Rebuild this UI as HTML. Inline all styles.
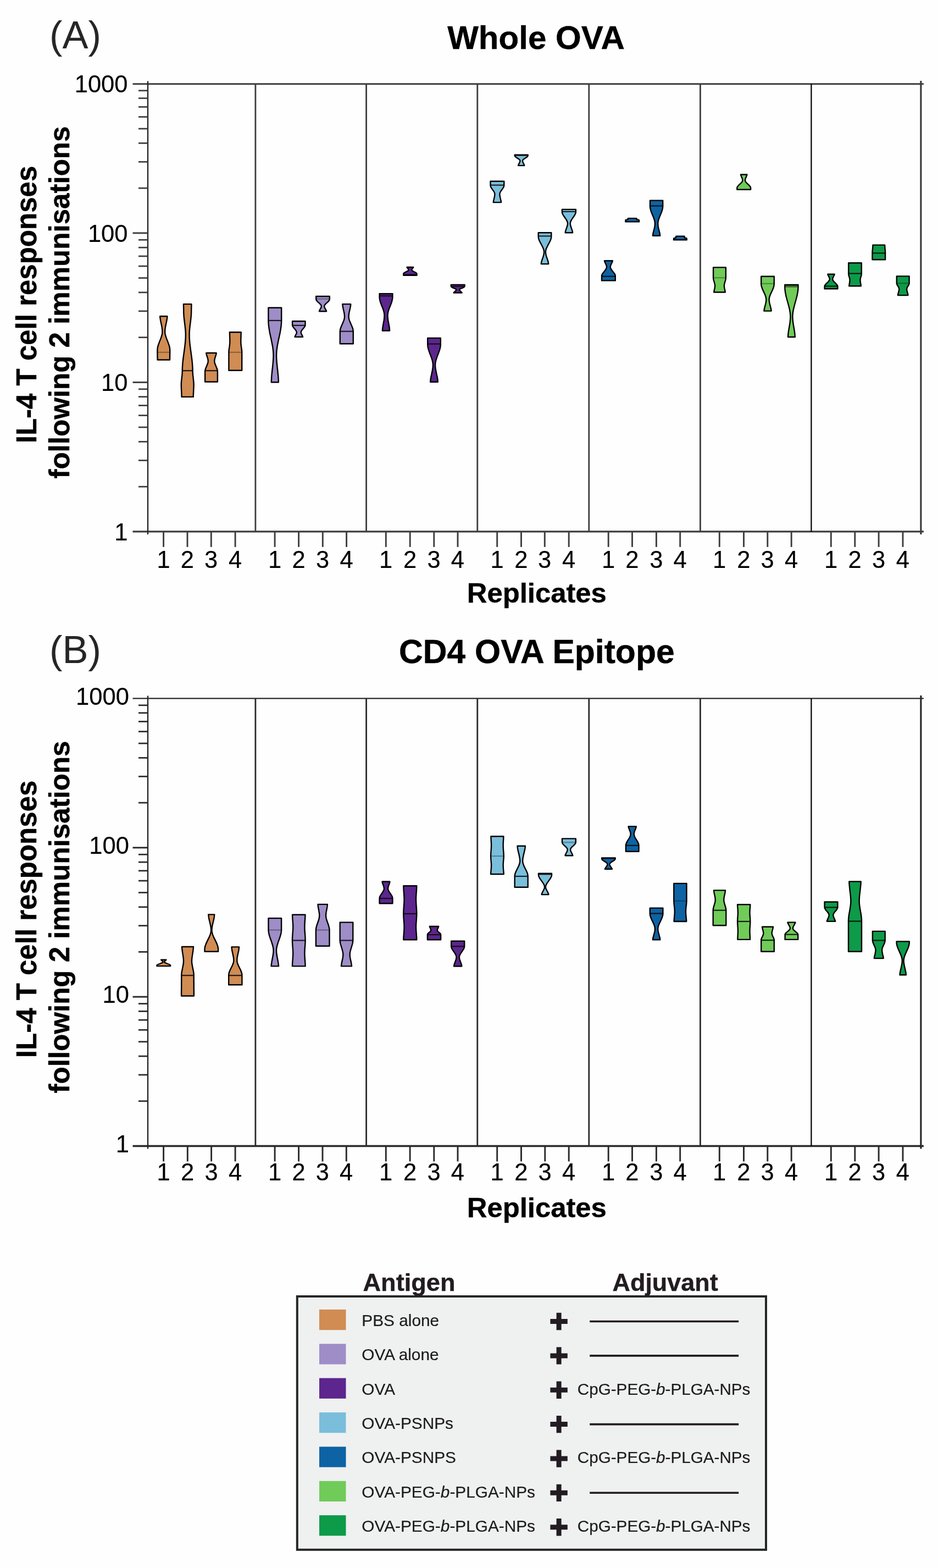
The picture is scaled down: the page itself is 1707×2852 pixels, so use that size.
<!DOCTYPE html>
<html lang="en">
<head>
<meta charset="utf-8">
<title>IL-4 T cell responses following 2 immunisations</title>
<style>
html,body{margin:0;padding:0;background:#fefefe;}
body{width:1707px;height:2852px;overflow:hidden;}
svg{display:block;}
svg text{white-space:pre;}
</style>
</head>
<body>
<svg width="1707" height="2852" viewBox="0 0 1707 2852">
<rect width="1707" height="2852" fill="#fefefe"/>
<defs><filter id="soft" x="0" y="0" width="1707" height="2852" filterUnits="userSpaceOnUse"><feGaussianBlur stdDeviation="0.6"/></filter></defs>
<g filter="url(#soft)">
<g stroke="#3d3d3d" stroke-width="2.9" fill="none" stroke-linecap="butt">
<line x1="241.5" y1="152.8" x2="1680.9" y2="152.8" stroke-width="3.0"/>
<line x1="241.5" y1="966.9" x2="1680.9" y2="966.9" stroke-width="3.4"/>
<line x1="269.0" y1="147.4" x2="269.0" y2="971.9" stroke-width="2.4" stroke="#262626"/>
<line x1="1675.9" y1="146.9" x2="1675.9" y2="971.9" stroke-width="3.2"/>
<line x1="464.9" y1="152.4" x2="464.9" y2="966.9" stroke-width="2.8"/>
<line x1="666.6" y1="152.4" x2="666.6" y2="966.9" stroke-width="2.8"/>
<line x1="868.8" y1="152.4" x2="868.8" y2="966.9" stroke-width="2.8"/>
<line x1="1071.8" y1="152.4" x2="1071.8" y2="966.9" stroke-width="2.8"/>
<line x1="1274.4" y1="152.4" x2="1274.4" y2="966.9" stroke-width="2.8"/>
<line x1="1476.4" y1="152.4" x2="1476.4" y2="966.9" stroke-width="2.2" stroke="#000"/>
<line x1="252" y1="885.2" x2="269.0" y2="885.2" stroke-width="2.7"/>
<line x1="252" y1="837.4" x2="269.0" y2="837.4" stroke-width="2.7"/>
<line x1="252" y1="803.4" x2="269.0" y2="803.4" stroke-width="2.7"/>
<line x1="252" y1="777.1" x2="269.0" y2="777.1" stroke-width="2.7"/>
<line x1="252" y1="755.6" x2="269.0" y2="755.6" stroke-width="2.7"/>
<line x1="252" y1="737.5" x2="269.0" y2="737.5" stroke-width="2.7"/>
<line x1="252" y1="721.7" x2="269.0" y2="721.7" stroke-width="2.7"/>
<line x1="252" y1="707.8" x2="269.0" y2="707.8" stroke-width="2.7"/>
<line x1="241.5" y1="695.4" x2="269.0" y2="695.4"/>
<line x1="252" y1="613.7" x2="269.0" y2="613.7" stroke-width="2.7"/>
<line x1="252" y1="565.9" x2="269.0" y2="565.9" stroke-width="2.7"/>
<line x1="252" y1="531.9" x2="269.0" y2="531.9" stroke-width="2.7"/>
<line x1="252" y1="505.6" x2="269.0" y2="505.6" stroke-width="2.7"/>
<line x1="252" y1="484.1" x2="269.0" y2="484.1" stroke-width="2.7"/>
<line x1="252" y1="466.0" x2="269.0" y2="466.0" stroke-width="2.7"/>
<line x1="252" y1="450.2" x2="269.0" y2="450.2" stroke-width="2.7"/>
<line x1="252" y1="436.3" x2="269.0" y2="436.3" stroke-width="2.7"/>
<line x1="241.5" y1="423.9" x2="269.0" y2="423.9"/>
<line x1="252" y1="342.2" x2="269.0" y2="342.2" stroke-width="2.7"/>
<line x1="252" y1="294.4" x2="269.0" y2="294.4" stroke-width="2.7"/>
<line x1="252" y1="260.4" x2="269.0" y2="260.4" stroke-width="2.7"/>
<line x1="252" y1="234.1" x2="269.0" y2="234.1" stroke-width="2.7"/>
<line x1="252" y1="212.6" x2="269.0" y2="212.6" stroke-width="2.7"/>
<line x1="252" y1="194.5" x2="269.0" y2="194.5" stroke-width="2.7"/>
<line x1="252" y1="178.7" x2="269.0" y2="178.7" stroke-width="2.7"/>
<line x1="252" y1="164.8" x2="269.0" y2="164.8" stroke-width="2.7"/>
<line x1="297.6" y1="966.9" x2="297.6" y2="994.9"/>
<line x1="341.0" y1="966.9" x2="341.0" y2="994.9"/>
<line x1="384.3" y1="966.9" x2="384.3" y2="994.9"/>
<line x1="428.1" y1="966.9" x2="428.1" y2="994.9"/>
<line x1="500.1" y1="966.9" x2="500.1" y2="994.9"/>
<line x1="543.6" y1="966.9" x2="543.6" y2="994.9"/>
<line x1="587.3" y1="966.9" x2="587.3" y2="994.9"/>
<line x1="630.6" y1="966.9" x2="630.6" y2="994.9"/>
<line x1="702.3" y1="966.9" x2="702.3" y2="994.9"/>
<line x1="746.2" y1="966.9" x2="746.2" y2="994.9"/>
<line x1="789.8" y1="966.9" x2="789.8" y2="994.9"/>
<line x1="833.0" y1="966.9" x2="833.0" y2="994.9"/>
<line x1="904.7" y1="966.9" x2="904.7" y2="994.9"/>
<line x1="948.5" y1="966.9" x2="948.5" y2="994.9"/>
<line x1="991.3" y1="966.9" x2="991.3" y2="994.9"/>
<line x1="1035.2" y1="966.9" x2="1035.2" y2="994.9"/>
<line x1="1107.2" y1="966.9" x2="1107.2" y2="994.9"/>
<line x1="1150.5" y1="966.9" x2="1150.5" y2="994.9"/>
<line x1="1194.4" y1="966.9" x2="1194.4" y2="994.9"/>
<line x1="1237.7" y1="966.9" x2="1237.7" y2="994.9"/>
<line x1="1309.3" y1="966.9" x2="1309.3" y2="994.9"/>
<line x1="1353.5" y1="966.9" x2="1353.5" y2="994.9"/>
<line x1="1396.8" y1="966.9" x2="1396.8" y2="994.9"/>
<line x1="1440.2" y1="966.9" x2="1440.2" y2="994.9"/>
<line x1="1512.3" y1="966.9" x2="1512.3" y2="994.9"/>
<line x1="1555.8" y1="966.9" x2="1555.8" y2="994.9"/>
<line x1="1599.1" y1="966.9" x2="1599.1" y2="994.9"/>
<line x1="1643.0" y1="966.9" x2="1643.0" y2="994.9"/>
</g>
<path d="M291.2 575.3 L291.3 576.3 L291.3 577.3 L291.4 578.3 L291.6 579.3 L291.7 580.3 L291.9 581.3 L292.0 582.3 L292.2 583.3 L292.4 584.3 L292.6 585.3 L292.8 586.3 L293.0 587.3 L293.3 588.3 L293.5 589.3 L293.7 590.3 L293.9 591.3 L294.1 592.3 L294.3 593.3 L294.5 594.3 L294.7 595.4 L294.8 596.4 L295.0 597.4 L295.1 598.4 L295.2 599.4 L295.3 600.4 L295.4 601.4 L295.4 602.4 L295.4 603.4 L295.4 604.4 L295.3 605.4 L295.2 606.4 L295.0 607.4 L294.8 608.4 L294.6 609.4 L294.3 610.4 L294.0 611.4 L293.7 612.4 L293.4 613.4 L293.0 614.4 L292.7 615.4 L292.3 616.4 L291.9 617.4 L291.5 618.4 L291.1 619.4 L290.7 620.4 L290.3 621.4 L289.9 622.4 L289.6 623.4 L289.2 624.4 L288.8 625.4 L288.5 626.4 L288.1 627.4 L287.8 628.4 L287.5 629.4 L287.3 630.4 L287.0 631.4 L286.8 632.4 L286.7 633.4 L286.5 634.4 L286.5 635.5 L286.4 636.5 L286.4 637.5 L286.4 638.5 L286.4 639.5 L286.4 640.5 L286.4 641.5 L286.4 642.5 L286.5 643.5 L286.5 644.5 L286.5 645.5 L286.5 646.5 L286.5 647.5 L286.5 648.5 L286.5 649.5 L286.6 650.5 L286.6 651.5 L286.6 652.5 L286.6 653.5 L286.6 654.5 L309.0 654.5 L309.0 653.5 L309.0 652.5 L309.0 651.5 L309.0 650.5 L309.1 649.5 L309.1 648.5 L309.1 647.5 L309.1 646.5 L309.1 645.5 L309.1 644.5 L309.1 643.5 L309.2 642.5 L309.2 641.5 L309.2 640.5 L309.2 639.5 L309.2 638.5 L309.2 637.5 L309.2 636.5 L309.1 635.5 L309.1 634.4 L308.9 633.4 L308.8 632.4 L308.6 631.4 L308.3 630.4 L308.1 629.4 L307.8 628.4 L307.5 627.4 L307.1 626.4 L306.8 625.4 L306.4 624.4 L306.0 623.4 L305.7 622.4 L305.3 621.4 L304.9 620.4 L304.5 619.4 L304.1 618.4 L303.7 617.4 L303.3 616.4 L302.9 615.4 L302.6 614.4 L302.2 613.4 L301.9 612.4 L301.6 611.4 L301.3 610.4 L301.0 609.4 L300.8 608.4 L300.6 607.4 L300.4 606.4 L300.3 605.4 L300.2 604.4 L300.2 603.4 L300.2 602.4 L300.2 601.4 L300.3 600.4 L300.4 599.4 L300.5 598.4 L300.6 597.4 L300.8 596.4 L300.9 595.4 L301.1 594.3 L301.3 593.3 L301.5 592.3 L301.7 591.3 L301.9 590.3 L302.1 589.3 L302.3 588.3 L302.6 587.3 L302.8 586.3 L303.0 585.3 L303.2 584.3 L303.4 583.3 L303.6 582.3 L303.7 581.3 L303.9 580.3 L304.0 579.3 L304.2 578.3 L304.3 577.3 L304.3 576.3 L304.4 575.3Z" fill="#d08c53" stroke="#050505" stroke-width="2.4" stroke-linejoin="round"/>
<line x1="286.4" y1="640.8" x2="309.2" y2="640.8" stroke="#050505" stroke-width="2.2" stroke-opacity="0.32"/>
<path d="M334.0 553.1 L334.0 554.1 L334.0 555.1 L334.0 556.1 L334.1 557.1 L334.1 558.1 L334.1 559.1 L334.1 560.1 L334.1 561.1 L334.2 562.1 L334.2 563.1 L334.2 564.1 L334.2 565.1 L334.2 566.1 L334.2 567.1 L334.2 568.1 L334.3 569.1 L334.3 570.1 L334.3 571.1 L334.4 572.1 L334.5 573.1 L334.5 574.1 L334.6 575.1 L334.7 576.1 L334.8 577.1 L334.9 578.1 L335.0 579.1 L335.1 580.1 L335.2 581.1 L335.3 582.1 L335.5 583.1 L335.6 584.1 L335.7 585.1 L335.8 586.1 L335.9 587.1 L336.1 588.1 L336.2 589.1 L336.3 590.1 L336.4 591.1 L336.6 592.1 L336.7 593.1 L336.8 594.1 L336.9 595.1 L337.0 596.0 L337.1 597.0 L337.2 598.0 L337.3 599.0 L337.4 600.0 L337.5 601.0 L337.5 602.0 L337.6 603.0 L337.7 604.0 L337.7 605.0 L337.8 606.0 L337.8 607.0 L337.8 608.0 L337.8 609.0 L337.8 610.0 L337.8 611.0 L337.8 612.0 L337.7 613.0 L337.7 614.0 L337.7 615.0 L337.6 616.0 L337.5 617.0 L337.5 618.0 L337.4 619.0 L337.3 620.0 L337.3 621.0 L337.2 622.0 L337.1 623.0 L337.0 624.0 L336.9 625.0 L336.8 626.0 L336.7 627.0 L336.6 628.0 L336.4 629.0 L336.3 630.0 L336.2 631.0 L336.1 632.0 L335.9 633.0 L335.8 634.0 L335.7 635.0 L335.6 636.0 L335.4 637.0 L335.3 638.0 L335.1 639.0 L335.0 640.0 L334.9 641.0 L334.7 642.0 L334.6 643.0 L334.5 644.0 L334.3 645.0 L334.2 646.0 L334.0 647.0 L333.9 648.0 L333.8 649.0 L333.7 650.0 L333.5 651.0 L333.4 652.0 L333.3 653.0 L333.2 654.0 L333.0 655.0 L332.9 656.0 L332.8 657.0 L332.7 658.0 L332.6 659.0 L332.5 660.0 L332.4 661.0 L332.3 662.0 L332.3 663.0 L332.2 664.0 L332.1 665.0 L332.1 666.0 L332.0 667.0 L331.9 668.0 L331.9 669.0 L331.9 670.0 L331.8 671.0 L331.8 672.0 L331.8 673.0 L331.8 674.0 L331.8 675.0 L331.8 676.0 L331.7 677.0 L331.7 678.0 L331.6 679.0 L331.5 679.9 L331.4 680.9 L331.4 681.9 L331.3 682.9 L331.1 683.9 L331.0 684.9 L330.9 685.9 L330.8 686.9 L330.7 687.9 L330.6 688.9 L330.5 689.9 L330.4 690.9 L330.3 691.9 L330.2 692.9 L330.1 693.9 L330.0 694.9 L329.9 695.9 L329.9 696.9 L329.8 697.9 L329.8 698.9 L329.8 699.9 L329.8 700.9 L329.8 701.9 L329.8 702.9 L329.9 703.9 L329.9 704.9 L329.9 705.9 L330.0 706.9 L330.0 707.9 L330.1 708.9 L330.1 709.9 L330.2 710.9 L330.2 711.9 L330.3 712.9 L330.3 713.9 L330.4 714.9 L330.4 715.9 L330.5 716.9 L330.5 717.9 L330.5 718.9 L330.6 719.9 L330.6 720.9 L330.6 721.9 L351.8 721.9 L351.8 720.9 L351.8 719.9 L351.9 718.9 L351.9 717.9 L351.9 716.9 L352.0 715.9 L352.0 714.9 L352.1 713.9 L352.1 712.9 L352.2 711.9 L352.2 710.9 L352.3 709.9 L352.3 708.9 L352.4 707.9 L352.4 706.9 L352.5 705.9 L352.5 704.9 L352.5 703.9 L352.6 702.9 L352.6 701.9 L352.6 700.9 L352.6 699.9 L352.6 698.9 L352.6 697.9 L352.5 696.9 L352.5 695.9 L352.4 694.9 L352.3 693.9 L352.2 692.9 L352.1 691.9 L352.0 690.9 L351.9 689.9 L351.8 688.9 L351.7 687.9 L351.6 686.9 L351.5 685.9 L351.4 684.9 L351.3 683.9 L351.1 682.9 L351.0 681.9 L351.0 680.9 L350.9 679.9 L350.8 679.0 L350.7 678.0 L350.7 677.0 L350.6 676.0 L350.6 675.0 L350.6 674.0 L350.6 673.0 L350.6 672.0 L350.6 671.0 L350.5 670.0 L350.5 669.0 L350.5 668.0 L350.4 667.0 L350.3 666.0 L350.3 665.0 L350.2 664.0 L350.1 663.0 L350.1 662.0 L350.0 661.0 L349.9 660.0 L349.8 659.0 L349.7 658.0 L349.6 657.0 L349.5 656.0 L349.4 655.0 L349.2 654.0 L349.1 653.0 L349.0 652.0 L348.9 651.0 L348.7 650.0 L348.6 649.0 L348.5 648.0 L348.4 647.0 L348.2 646.0 L348.1 645.0 L347.9 644.0 L347.8 643.0 L347.7 642.0 L347.5 641.0 L347.4 640.0 L347.3 639.0 L347.1 638.0 L347.0 637.0 L346.8 636.0 L346.7 635.0 L346.6 634.0 L346.5 633.0 L346.3 632.0 L346.2 631.0 L346.1 630.0 L346.0 629.0 L345.8 628.0 L345.7 627.0 L345.6 626.0 L345.5 625.0 L345.4 624.0 L345.3 623.0 L345.2 622.0 L345.1 621.0 L345.1 620.0 L345.0 619.0 L344.9 618.0 L344.9 617.0 L344.8 616.0 L344.7 615.0 L344.7 614.0 L344.7 613.0 L344.6 612.0 L344.6 611.0 L344.6 610.0 L344.6 609.0 L344.6 608.0 L344.6 607.0 L344.6 606.0 L344.7 605.0 L344.7 604.0 L344.8 603.0 L344.9 602.0 L344.9 601.0 L345.0 600.0 L345.1 599.0 L345.2 598.0 L345.3 597.0 L345.4 596.0 L345.5 595.1 L345.6 594.1 L345.7 593.1 L345.8 592.1 L346.0 591.1 L346.1 590.1 L346.2 589.1 L346.3 588.1 L346.5 587.1 L346.6 586.1 L346.7 585.1 L346.8 584.1 L346.9 583.1 L347.1 582.1 L347.2 581.1 L347.3 580.1 L347.4 579.1 L347.5 578.1 L347.6 577.1 L347.7 576.1 L347.8 575.1 L347.9 574.1 L347.9 573.1 L348.0 572.1 L348.1 571.1 L348.1 570.1 L348.1 569.1 L348.2 568.1 L348.2 567.1 L348.2 566.1 L348.2 565.1 L348.2 564.1 L348.2 563.1 L348.2 562.1 L348.3 561.1 L348.3 560.1 L348.3 559.1 L348.3 558.1 L348.3 557.1 L348.4 556.1 L348.4 555.1 L348.4 554.1 L348.4 553.1Z" fill="#d08c53" stroke="#050505" stroke-width="2.4" stroke-linejoin="round"/>
<line x1="331.8" y1="674.2" x2="350.6" y2="674.2" stroke="#050505" stroke-width="2.2" stroke-opacity="0.85"/>
<path d="M375.3 642.0 L375.4 643.0 L375.6 644.0 L375.8 645.0 L376.1 646.0 L376.4 647.0 L376.8 648.1 L377.1 649.1 L377.4 650.1 L377.8 651.1 L378.0 652.1 L378.3 653.1 L378.5 654.1 L378.6 655.1 L378.7 656.1 L378.7 657.1 L378.6 658.2 L378.4 659.2 L378.2 660.2 L377.9 661.2 L377.5 662.2 L377.1 663.2 L376.7 664.2 L376.3 665.2 L375.9 666.2 L375.5 667.2 L375.0 668.2 L374.6 669.3 L374.3 670.3 L373.9 671.3 L373.6 672.3 L373.4 673.3 L373.2 674.3 L373.1 675.3 L373.1 676.3 L373.1 677.3 L373.1 678.3 L373.1 679.4 L373.1 680.4 L373.1 681.4 L373.1 682.4 L373.1 683.4 L373.1 684.4 L373.1 685.4 L373.1 686.4 L373.1 687.4 L373.1 688.4 L373.1 689.5 L373.1 690.5 L373.1 691.5 L373.1 692.5 L373.1 693.5 L373.1 694.5 L395.9 694.5 L395.9 693.5 L395.9 692.5 L395.9 691.5 L395.9 690.5 L395.9 689.5 L395.9 688.4 L395.9 687.4 L395.9 686.4 L395.9 685.4 L395.9 684.4 L395.9 683.4 L395.9 682.4 L395.9 681.4 L395.9 680.4 L395.9 679.4 L395.9 678.3 L395.9 677.3 L395.9 676.3 L395.9 675.3 L395.8 674.3 L395.6 673.3 L395.4 672.3 L395.1 671.3 L394.7 670.3 L394.4 669.3 L394.0 668.2 L393.5 667.2 L393.1 666.2 L392.7 665.2 L392.3 664.2 L391.9 663.2 L391.5 662.2 L391.1 661.2 L390.8 660.2 L390.6 659.2 L390.4 658.2 L390.3 657.1 L390.3 656.1 L390.4 655.1 L390.5 654.1 L390.7 653.1 L391.0 652.1 L391.2 651.1 L391.6 650.1 L391.9 649.1 L392.2 648.1 L392.6 647.0 L392.9 646.0 L393.2 645.0 L393.4 644.0 L393.6 643.0 L393.7 642.0Z" fill="#d08c53" stroke="#050505" stroke-width="2.4" stroke-linejoin="round"/>
<line x1="373.2" y1="674.2" x2="395.8" y2="674.2" stroke="#050505" stroke-width="2.2" stroke-opacity="0.85"/>
<path d="M417.9 604.2 L417.9 605.2 L417.9 606.2 L418.0 607.2 L418.0 608.2 L418.0 609.2 L418.0 610.2 L418.1 611.3 L418.1 612.3 L418.1 613.3 L418.2 614.3 L418.2 615.3 L418.2 616.3 L418.2 617.3 L418.3 618.3 L418.3 619.3 L418.3 620.3 L418.3 621.3 L418.3 622.3 L418.3 623.3 L418.2 624.3 L418.1 625.4 L418.0 626.4 L417.9 627.4 L417.8 628.4 L417.7 629.4 L417.5 630.4 L417.4 631.4 L417.2 632.4 L417.1 633.4 L416.9 634.4 L416.8 635.4 L416.7 636.4 L416.6 637.4 L416.5 638.4 L416.4 639.5 L416.4 640.5 L416.4 641.5 L416.4 642.5 L416.4 643.5 L416.4 644.5 L416.4 645.5 L416.4 646.5 L416.4 647.5 L416.4 648.5 L416.4 649.5 L416.4 650.5 L416.4 651.5 L416.4 652.5 L416.4 653.6 L416.4 654.6 L416.4 655.6 L416.4 656.6 L416.4 657.6 L416.4 658.6 L416.4 659.6 L416.4 660.6 L416.4 661.6 L416.4 662.6 L416.4 663.6 L416.4 664.6 L416.4 665.6 L416.4 666.6 L416.4 667.7 L416.4 668.7 L416.4 669.7 L416.4 670.7 L416.4 671.7 L416.4 672.7 L416.4 673.7 L440.2 673.7 L440.2 672.7 L440.2 671.7 L440.2 670.7 L440.2 669.7 L440.2 668.7 L440.2 667.7 L440.2 666.6 L440.2 665.6 L440.2 664.6 L440.2 663.6 L440.2 662.6 L440.2 661.6 L440.2 660.6 L440.2 659.6 L440.2 658.6 L440.2 657.6 L440.2 656.6 L440.2 655.6 L440.2 654.6 L440.2 653.6 L440.2 652.5 L440.2 651.5 L440.2 650.5 L440.2 649.5 L440.2 648.5 L440.2 647.5 L440.2 646.5 L440.2 645.5 L440.2 644.5 L440.2 643.5 L440.2 642.5 L440.2 641.5 L440.2 640.5 L440.2 639.5 L440.1 638.4 L440.0 637.4 L439.9 636.4 L439.8 635.4 L439.7 634.4 L439.5 633.4 L439.4 632.4 L439.2 631.4 L439.1 630.4 L438.9 629.4 L438.8 628.4 L438.7 627.4 L438.6 626.4 L438.5 625.4 L438.4 624.3 L438.3 623.3 L438.3 622.3 L438.3 621.3 L438.3 620.3 L438.3 619.3 L438.3 618.3 L438.4 617.3 L438.4 616.3 L438.4 615.3 L438.4 614.3 L438.5 613.3 L438.5 612.3 L438.5 611.3 L438.6 610.2 L438.6 609.2 L438.6 608.2 L438.6 607.2 L438.7 606.2 L438.7 605.2 L438.7 604.2Z" fill="#d08c53" stroke="#050505" stroke-width="2.4" stroke-linejoin="round"/>
<line x1="416.4" y1="640.8" x2="440.2" y2="640.8" stroke="#050505" stroke-width="2.2" stroke-opacity="0.32"/>
<path d="M488.4 559.7 L488.4 560.7 L488.4 561.7 L488.4 562.7 L488.4 563.7 L488.4 564.7 L488.4 565.7 L488.4 566.7 L488.4 567.7 L488.4 568.7 L488.4 569.7 L488.4 570.7 L488.4 571.7 L488.4 572.7 L488.4 573.8 L488.4 574.8 L488.4 575.8 L488.4 576.8 L488.4 577.8 L488.4 578.8 L488.4 579.8 L488.4 580.8 L488.4 581.8 L488.4 582.8 L488.4 583.8 L488.4 584.8 L488.5 585.8 L488.5 586.8 L488.6 587.8 L488.6 588.8 L488.7 589.8 L488.8 590.8 L488.9 591.8 L489.0 592.8 L489.1 593.8 L489.2 594.8 L489.4 595.8 L489.5 596.8 L489.7 597.8 L489.8 598.8 L490.0 599.8 L490.2 600.9 L490.4 601.9 L490.5 602.9 L490.7 603.9 L490.9 604.9 L491.1 605.9 L491.3 606.9 L491.5 607.9 L491.7 608.9 L492.0 609.9 L492.2 610.9 L492.4 611.9 L492.6 612.9 L492.8 613.9 L493.0 614.9 L493.3 615.9 L493.5 616.9 L493.7 617.9 L493.9 618.9 L494.1 619.9 L494.3 620.9 L494.5 621.9 L494.7 622.9 L494.9 623.9 L495.1 624.9 L495.3 625.9 L495.5 626.9 L495.7 628.0 L495.9 629.0 L496.0 630.0 L496.2 631.0 L496.3 632.0 L496.5 633.0 L496.6 634.0 L496.8 635.0 L496.9 636.0 L497.0 637.0 L497.1 638.0 L497.2 639.0 L497.3 640.0 L497.3 641.0 L497.4 642.0 L497.4 643.0 L497.5 644.0 L497.5 645.0 L497.5 646.0 L497.5 647.0 L497.5 648.0 L497.5 649.0 L497.4 650.0 L497.4 651.0 L497.4 652.0 L497.3 653.0 L497.2 654.0 L497.2 655.1 L497.1 656.1 L497.0 657.1 L497.0 658.1 L496.9 659.1 L496.8 660.1 L496.7 661.1 L496.6 662.1 L496.5 663.1 L496.4 664.1 L496.3 665.1 L496.2 666.1 L496.1 667.1 L496.0 668.1 L495.9 669.1 L495.8 670.1 L495.7 671.1 L495.5 672.1 L495.4 673.1 L495.3 674.1 L495.2 675.1 L495.1 676.1 L495.0 677.1 L494.9 678.1 L494.8 679.1 L494.7 680.1 L494.6 681.1 L494.5 682.2 L494.4 683.2 L494.3 684.2 L494.3 685.2 L494.2 686.2 L494.1 687.2 L494.1 688.2 L494.0 689.2 L494.0 690.2 L493.9 691.2 L493.9 692.2 L493.8 693.2 L493.8 694.2 L493.8 695.2 L506.8 695.2 L506.8 694.2 L506.8 693.2 L506.7 692.2 L506.7 691.2 L506.6 690.2 L506.6 689.2 L506.5 688.2 L506.5 687.2 L506.4 686.2 L506.3 685.2 L506.3 684.2 L506.2 683.2 L506.1 682.2 L506.0 681.1 L505.9 680.1 L505.8 679.1 L505.7 678.1 L505.6 677.1 L505.5 676.1 L505.4 675.1 L505.3 674.1 L505.2 673.1 L505.1 672.1 L504.9 671.1 L504.8 670.1 L504.7 669.1 L504.6 668.1 L504.5 667.1 L504.4 666.1 L504.3 665.1 L504.2 664.1 L504.1 663.1 L504.0 662.1 L503.9 661.1 L503.8 660.1 L503.7 659.1 L503.6 658.1 L503.6 657.1 L503.5 656.1 L503.4 655.1 L503.4 654.0 L503.3 653.0 L503.2 652.0 L503.2 651.0 L503.2 650.0 L503.1 649.0 L503.1 648.0 L503.1 647.0 L503.1 646.0 L503.1 645.0 L503.1 644.0 L503.2 643.0 L503.2 642.0 L503.3 641.0 L503.3 640.0 L503.4 639.0 L503.5 638.0 L503.6 637.0 L503.7 636.0 L503.8 635.0 L504.0 634.0 L504.1 633.0 L504.3 632.0 L504.4 631.0 L504.6 630.0 L504.7 629.0 L504.9 628.0 L505.1 626.9 L505.3 625.9 L505.5 624.9 L505.7 623.9 L505.9 622.9 L506.1 621.9 L506.3 620.9 L506.5 619.9 L506.7 618.9 L506.9 617.9 L507.1 616.9 L507.3 615.9 L507.6 614.9 L507.8 613.9 L508.0 612.9 L508.2 611.9 L508.4 610.9 L508.6 609.9 L508.9 608.9 L509.1 607.9 L509.3 606.9 L509.5 605.9 L509.7 604.9 L509.9 603.9 L510.1 602.9 L510.2 601.9 L510.4 600.9 L510.6 599.8 L510.8 598.8 L510.9 597.8 L511.1 596.8 L511.2 595.8 L511.4 594.8 L511.5 593.8 L511.6 592.8 L511.7 591.8 L511.8 590.8 L511.9 589.8 L512.0 588.8 L512.0 587.8 L512.1 586.8 L512.1 585.8 L512.2 584.8 L512.2 583.8 L512.2 582.8 L512.2 581.8 L512.2 580.8 L512.2 579.8 L512.2 578.8 L512.2 577.8 L512.2 576.8 L512.2 575.8 L512.2 574.8 L512.2 573.8 L512.2 572.7 L512.2 571.7 L512.2 570.7 L512.2 569.7 L512.2 568.7 L512.2 567.7 L512.2 566.7 L512.2 565.7 L512.2 564.7 L512.2 563.7 L512.2 562.7 L512.2 561.7 L512.2 560.7 L512.2 559.7Z" fill="#9e8dc7" stroke="#050505" stroke-width="2.4" stroke-linejoin="round"/>
<line x1="488.4" y1="583.0" x2="512.2" y2="583.0" stroke="#050505" stroke-width="2.2" stroke-opacity="0.85"/>
<path d="M532.1 584.2 L532.1 585.2 L532.1 586.2 L532.1 587.2 L532.1 588.2 L532.1 589.1 L532.1 590.1 L532.1 591.1 L532.2 592.1 L532.6 593.1 L533.1 594.1 L533.8 595.1 L534.5 596.1 L535.4 597.1 L536.2 598.1 L537.0 599.0 L537.8 600.0 L538.5 601.0 L539.1 602.0 L539.5 603.0 L539.8 604.0 L539.8 605.0 L539.6 606.0 L539.3 607.0 L538.8 608.0 L538.3 608.9 L537.8 609.9 L537.3 610.9 L536.9 611.9 L536.6 612.9 L551.0 612.9 L550.7 611.9 L550.3 610.9 L549.8 609.9 L549.3 608.9 L548.8 608.0 L548.3 607.0 L548.0 606.0 L547.8 605.0 L547.8 604.0 L548.1 603.0 L548.5 602.0 L549.1 601.0 L549.8 600.0 L550.6 599.0 L551.4 598.1 L552.2 597.1 L553.1 596.1 L553.8 595.1 L554.5 594.1 L555.0 593.1 L555.4 592.1 L555.5 591.1 L555.5 590.1 L555.5 589.1 L555.5 588.2 L555.5 587.2 L555.5 586.2 L555.5 585.2 L555.5 584.2Z" fill="#9e8dc7" stroke="#050505" stroke-width="2.4" stroke-linejoin="round"/>
<line x1="532.2" y1="591.9" x2="555.4" y2="591.9" stroke="#050505" stroke-width="2.2" stroke-opacity="0.85"/>
<path d="M575.2 539.0 L575.2 540.0 L575.2 541.0 L575.2 542.0 L575.2 543.0 L575.2 544.0 L575.4 545.0 L575.8 546.1 L576.5 547.1 L577.4 548.1 L578.4 549.1 L579.5 550.1 L580.7 551.1 L581.7 552.1 L582.7 553.1 L583.6 554.1 L584.3 555.1 L584.7 556.1 L584.8 557.1 L584.7 558.1 L584.4 559.1 L583.9 560.2 L583.4 561.2 L582.8 562.2 L582.2 563.2 L581.7 564.2 L581.3 565.2 L580.9 566.2 L594.1 566.2 L593.7 565.2 L593.3 564.2 L592.8 563.2 L592.2 562.2 L591.6 561.2 L591.1 560.2 L590.6 559.1 L590.3 558.1 L590.2 557.1 L590.3 556.1 L590.7 555.1 L591.4 554.1 L592.3 553.1 L593.3 552.1 L594.3 551.1 L595.5 550.1 L596.6 549.1 L597.6 548.1 L598.5 547.1 L599.2 546.1 L599.6 545.0 L599.8 544.0 L599.8 543.0 L599.8 542.0 L599.8 541.0 L599.8 540.0 L599.8 539.0Z" fill="#9e8dc7" stroke="#050505" stroke-width="2.4" stroke-linejoin="round"/>
<line x1="575.2" y1="543.7" x2="599.8" y2="543.7" stroke="#050505" stroke-width="2.2" stroke-opacity="0.32"/>
<path d="M623.3 553.1 L623.4 554.1 L623.5 555.1 L623.6 556.1 L623.7 557.1 L623.9 558.1 L624.1 559.1 L624.3 560.1 L624.5 561.1 L624.7 562.1 L625.0 563.1 L625.2 564.1 L625.4 565.1 L625.6 566.1 L625.9 567.1 L626.1 568.1 L626.3 569.1 L626.4 570.1 L626.6 571.1 L626.7 572.1 L626.9 573.1 L626.9 574.1 L627.0 575.1 L627.0 576.1 L627.0 577.1 L626.9 578.1 L626.7 579.1 L626.5 580.1 L626.2 581.1 L625.9 582.1 L625.6 583.1 L625.2 584.1 L624.8 585.1 L624.4 586.1 L624.0 587.1 L623.5 588.1 L623.1 589.1 L622.6 590.2 L622.2 591.2 L621.7 592.2 L621.3 593.2 L620.9 594.2 L620.5 595.2 L620.1 596.2 L619.8 597.2 L619.5 598.2 L619.2 599.2 L619.1 600.2 L618.9 601.2 L618.8 602.2 L618.8 603.2 L618.8 604.2 L618.8 605.2 L618.8 606.2 L618.8 607.2 L618.8 608.2 L618.8 609.2 L618.8 610.2 L618.8 611.2 L618.8 612.2 L618.8 613.2 L618.8 614.2 L618.8 615.2 L618.8 616.2 L618.8 617.2 L618.8 618.2 L618.8 619.2 L618.8 620.2 L618.8 621.2 L618.8 622.2 L618.8 623.2 L618.8 624.2 L618.8 625.2 L642.8 625.2 L642.8 624.2 L642.8 623.2 L642.8 622.2 L642.8 621.2 L642.8 620.2 L642.8 619.2 L642.8 618.2 L642.8 617.2 L642.8 616.2 L642.8 615.2 L642.8 614.2 L642.8 613.2 L642.8 612.2 L642.8 611.2 L642.8 610.2 L642.8 609.2 L642.8 608.2 L642.8 607.2 L642.8 606.2 L642.8 605.2 L642.8 604.2 L642.8 603.2 L642.8 602.2 L642.7 601.2 L642.5 600.2 L642.4 599.2 L642.1 598.2 L641.8 597.2 L641.5 596.2 L641.1 595.2 L640.7 594.2 L640.3 593.2 L639.9 592.2 L639.4 591.2 L639.0 590.2 L638.5 589.1 L638.1 588.1 L637.6 587.1 L637.2 586.1 L636.8 585.1 L636.4 584.1 L636.0 583.1 L635.7 582.1 L635.4 581.1 L635.1 580.1 L634.9 579.1 L634.7 578.1 L634.6 577.1 L634.6 576.1 L634.6 575.1 L634.7 574.1 L634.7 573.1 L634.9 572.1 L635.0 571.1 L635.2 570.1 L635.3 569.1 L635.5 568.1 L635.7 567.1 L636.0 566.1 L636.2 565.1 L636.4 564.1 L636.6 563.1 L636.9 562.1 L637.1 561.1 L637.3 560.1 L637.5 559.1 L637.7 558.1 L637.9 557.1 L638.0 556.1 L638.1 555.1 L638.2 554.1 L638.3 553.1Z" fill="#9e8dc7" stroke="#050505" stroke-width="2.4" stroke-linejoin="round"/>
<line x1="618.8" y1="602.7" x2="642.8" y2="602.7" stroke="#050505" stroke-width="2.2" stroke-opacity="0.85"/>
<path d="M690.6 534.2 L690.6 535.2 L690.6 536.2 L690.6 537.2 L690.6 538.2 L690.6 539.2 L690.6 540.2 L690.6 541.2 L690.7 542.2 L690.8 543.2 L691.0 544.2 L691.2 545.2 L691.4 546.3 L691.7 547.3 L691.9 548.3 L692.2 549.3 L692.6 550.3 L692.9 551.3 L693.3 552.3 L693.6 553.3 L694.0 554.3 L694.4 555.3 L694.8 556.3 L695.2 557.3 L695.6 558.3 L696.0 559.3 L696.4 560.3 L696.8 561.3 L697.1 562.3 L697.5 563.3 L697.8 564.3 L698.1 565.3 L698.4 566.3 L698.7 567.3 L698.9 568.4 L699.1 569.4 L699.2 570.4 L699.4 571.4 L699.5 572.4 L699.5 573.4 L699.5 574.4 L699.5 575.4 L699.4 576.4 L699.3 577.4 L699.3 578.4 L699.1 579.4 L699.0 580.4 L698.9 581.4 L698.7 582.4 L698.6 583.4 L698.4 584.4 L698.2 585.4 L698.0 586.4 L697.9 587.4 L697.7 588.4 L697.5 589.4 L697.3 590.5 L697.1 591.5 L696.9 592.5 L696.8 593.5 L696.6 594.5 L696.5 595.5 L696.3 596.5 L696.2 597.5 L696.1 598.5 L696.0 599.5 L696.0 600.5 L695.9 601.5 L709.1 601.5 L709.0 600.5 L709.0 599.5 L708.9 598.5 L708.8 597.5 L708.7 596.5 L708.5 595.5 L708.4 594.5 L708.2 593.5 L708.1 592.5 L707.9 591.5 L707.7 590.5 L707.5 589.4 L707.3 588.4 L707.1 587.4 L707.0 586.4 L706.8 585.4 L706.6 584.4 L706.4 583.4 L706.3 582.4 L706.1 581.4 L706.0 580.4 L705.9 579.4 L705.7 578.4 L705.7 577.4 L705.6 576.4 L705.5 575.4 L705.5 574.4 L705.5 573.4 L705.5 572.4 L705.6 571.4 L705.8 570.4 L705.9 569.4 L706.1 568.4 L706.3 567.3 L706.6 566.3 L706.9 565.3 L707.2 564.3 L707.5 563.3 L707.9 562.3 L708.2 561.3 L708.6 560.3 L709.0 559.3 L709.4 558.3 L709.8 557.3 L710.2 556.3 L710.6 555.3 L711.0 554.3 L711.4 553.3 L711.7 552.3 L712.1 551.3 L712.4 550.3 L712.8 549.3 L713.1 548.3 L713.3 547.3 L713.6 546.3 L713.8 545.2 L714.0 544.2 L714.2 543.2 L714.3 542.2 L714.4 541.2 L714.4 540.2 L714.4 539.2 L714.4 538.2 L714.4 537.2 L714.4 536.2 L714.4 535.2 L714.4 534.2Z" fill="#5c288e" stroke="#050505" stroke-width="2.4" stroke-linejoin="round"/>
<line x1="690.6" y1="538.2" x2="714.4" y2="538.2" stroke="#050505" stroke-width="2.2" stroke-opacity="0.85"/>
<path d="M740.5 486.0 L741.2 487.0 L741.9 488.0 L742.7 488.9 L743.3 489.9 L743.6 490.9 L743.2 491.9 L742.0 492.9 L740.2 493.8 L738.3 494.8 L736.5 495.8 L735.0 496.8 L734.3 497.8 L734.3 498.7 L734.3 499.7 L734.3 500.7 L758.5 500.7 L758.5 499.7 L758.5 498.7 L758.5 497.8 L757.8 496.8 L756.3 495.8 L754.5 494.8 L752.6 493.8 L750.8 492.9 L749.6 491.9 L749.2 490.9 L749.5 489.9 L750.1 488.9 L750.9 488.0 L751.6 487.0 L752.3 486.0Z" fill="#5c288e" stroke="#050505" stroke-width="2.4" stroke-linejoin="round"/>
<line x1="734.3" y1="499.6" x2="758.5" y2="499.6" stroke="#050505" stroke-width="2.2" stroke-opacity="0.85"/>
<path d="M778.2 614.9 L778.2 615.9 L778.2 616.9 L778.2 617.9 L778.2 618.9 L778.2 619.9 L778.2 620.9 L778.2 621.9 L778.2 622.9 L778.2 623.9 L778.2 624.9 L778.2 625.9 L778.2 626.9 L778.3 627.9 L778.4 628.9 L778.5 629.9 L778.6 630.9 L778.8 631.9 L779.0 632.9 L779.3 633.9 L779.5 634.9 L779.8 635.9 L780.1 636.9 L780.4 637.9 L780.8 638.9 L781.1 639.9 L781.5 640.9 L781.9 641.9 L782.2 642.9 L782.6 643.9 L783.0 644.9 L783.4 645.9 L783.8 646.9 L784.1 647.9 L784.5 648.9 L784.9 649.9 L785.2 650.9 L785.6 651.9 L785.9 652.9 L786.2 653.9 L786.5 654.9 L786.8 655.8 L787.0 656.8 L787.2 657.8 L787.4 658.8 L787.6 659.8 L787.7 660.8 L787.8 661.8 L787.9 662.8 L787.9 663.8 L787.9 664.8 L787.9 665.8 L787.8 666.8 L787.7 667.8 L787.6 668.8 L787.5 669.8 L787.3 670.8 L787.2 671.8 L787.0 672.8 L786.8 673.8 L786.7 674.8 L786.4 675.8 L786.2 676.8 L786.0 677.8 L785.8 678.8 L785.6 679.8 L785.4 680.8 L785.2 681.8 L784.9 682.8 L784.7 683.8 L784.5 684.8 L784.3 685.8 L784.1 686.8 L784.0 687.8 L783.8 688.8 L783.7 689.8 L783.5 690.8 L783.4 691.8 L783.3 692.8 L783.3 693.8 L783.2 694.8 L796.8 694.8 L796.7 693.8 L796.7 692.8 L796.6 691.8 L796.5 690.8 L796.3 689.8 L796.2 688.8 L796.0 687.8 L795.9 686.8 L795.7 685.8 L795.5 684.8 L795.3 683.8 L795.1 682.8 L794.8 681.8 L794.6 680.8 L794.4 679.8 L794.2 678.8 L794.0 677.8 L793.8 676.8 L793.6 675.8 L793.3 674.8 L793.2 673.8 L793.0 672.8 L792.8 671.8 L792.7 670.8 L792.5 669.8 L792.4 668.8 L792.3 667.8 L792.2 666.8 L792.1 665.8 L792.1 664.8 L792.1 663.8 L792.1 662.8 L792.2 661.8 L792.3 660.8 L792.4 659.8 L792.6 658.8 L792.8 657.8 L793.0 656.8 L793.2 655.8 L793.5 654.9 L793.8 653.9 L794.1 652.9 L794.4 651.9 L794.8 650.9 L795.1 649.9 L795.5 648.9 L795.9 647.9 L796.2 646.9 L796.6 645.9 L797.0 644.9 L797.4 643.9 L797.8 642.9 L798.1 641.9 L798.5 640.9 L798.9 639.9 L799.2 638.9 L799.6 637.9 L799.9 636.9 L800.2 635.9 L800.5 634.9 L800.7 633.9 L801.0 632.9 L801.2 631.9 L801.4 630.9 L801.5 629.9 L801.6 628.9 L801.7 627.9 L801.8 626.9 L801.8 625.9 L801.8 624.9 L801.8 623.9 L801.8 622.9 L801.8 621.9 L801.8 620.9 L801.8 619.9 L801.8 618.9 L801.8 617.9 L801.8 616.9 L801.8 615.9 L801.8 614.9Z" fill="#5c288e" stroke="#050505" stroke-width="2.4" stroke-linejoin="round"/>
<line x1="778.2" y1="625.6" x2="801.8" y2="625.6" stroke="#050505" stroke-width="2.2" stroke-opacity="0.85"/>
<path d="M820.8 517.9 L820.8 518.9 L820.8 519.9 L820.8 520.8 L821.3 521.8 L823.0 522.8 L825.3 523.8 L827.7 524.8 L829.6 525.7 L830.4 526.7 L830.2 527.7 L829.5 528.7 L828.5 529.7 L827.5 530.6 L826.5 531.6 L825.7 532.6 L840.7 532.6 L839.9 531.6 L838.9 530.6 L837.9 529.7 L836.9 528.7 L836.2 527.7 L836.0 526.7 L836.8 525.7 L838.7 524.8 L841.1 523.8 L843.4 522.8 L845.1 521.8 L845.6 520.8 L845.6 519.9 L845.6 518.9 L845.6 517.9Z" fill="#5c288e" stroke="#050505" stroke-width="2.4" stroke-linejoin="round"/>
<line x1="820.8" y1="521.0" x2="845.6" y2="521.0" stroke="#050505" stroke-width="2.2" stroke-opacity="0.85"/>
<path d="M892.5 329.8 L892.5 330.8 L892.5 331.8 L892.5 332.8 L892.5 333.8 L892.5 334.8 L892.5 335.8 L892.5 336.9 L892.6 337.9 L892.8 338.9 L893.2 339.9 L893.7 340.9 L894.3 341.9 L894.9 342.9 L895.6 343.9 L896.4 344.9 L897.1 345.9 L897.9 346.9 L898.5 347.9 L899.1 349.0 L899.7 350.0 L900.0 351.0 L900.3 352.0 L900.4 353.0 L900.4 354.0 L900.3 355.0 L900.2 356.0 L900.0 357.0 L899.8 358.0 L899.6 359.0 L899.4 360.0 L899.1 361.0 L898.9 362.1 L898.7 363.1 L898.4 364.1 L898.2 365.1 L898.1 366.1 L897.9 367.1 L897.8 368.1 L912.0 368.1 L911.9 367.1 L911.7 366.1 L911.6 365.1 L911.4 364.1 L911.1 363.1 L910.9 362.1 L910.7 361.0 L910.4 360.0 L910.2 359.0 L910.0 358.0 L909.8 357.0 L909.6 356.0 L909.5 355.0 L909.4 354.0 L909.4 353.0 L909.5 352.0 L909.8 351.0 L910.1 350.0 L910.7 349.0 L911.3 347.9 L911.9 346.9 L912.7 345.9 L913.4 344.9 L914.2 343.9 L914.9 342.9 L915.5 341.9 L916.1 340.9 L916.6 339.9 L917.0 338.9 L917.2 337.9 L917.3 336.9 L917.3 335.8 L917.3 334.8 L917.3 333.8 L917.3 332.8 L917.3 331.8 L917.3 330.8 L917.3 329.8Z" fill="#7abedb" stroke="#050505" stroke-width="2.4" stroke-linejoin="round"/>
<line x1="892.5" y1="336.7" x2="917.3" y2="336.7" stroke="#050505" stroke-width="2.2" stroke-opacity="0.85"/>
<path d="M936.7 281.6 L936.7 282.6 L936.8 283.5 L937.4 284.5 L938.5 285.5 L939.8 286.5 L941.3 287.4 L942.8 288.4 L944.3 289.4 L945.4 290.4 L946.2 291.4 L946.4 292.3 L946.3 293.3 L946.0 294.3 L945.7 295.2 L945.2 296.2 L944.7 297.2 L944.2 298.2 L943.8 299.2 L943.4 300.1 L943.1 301.1 L954.3 301.1 L954.0 300.1 L953.6 299.2 L953.2 298.2 L952.7 297.2 L952.2 296.2 L951.7 295.2 L951.4 294.3 L951.1 293.3 L951.0 292.3 L951.2 291.4 L952.0 290.4 L953.1 289.4 L954.6 288.4 L956.1 287.4 L957.6 286.5 L958.9 285.5 L960.0 284.5 L960.6 283.5 L960.7 282.6 L960.7 281.6Z" fill="#7abedb" stroke="#050505" stroke-width="2.4" stroke-linejoin="round"/>
<line x1="936.7" y1="282.6" x2="960.7" y2="282.6" stroke="#050505" stroke-width="2.2" stroke-opacity="0.85"/>
<path d="M979.7 423.2 L979.7 424.2 L979.7 425.2 L979.7 426.2 L979.7 427.2 L979.7 428.2 L979.7 429.2 L979.7 430.2 L979.8 431.2 L979.9 432.2 L980.1 433.2 L980.3 434.2 L980.6 435.2 L981.0 436.2 L981.4 437.2 L981.8 438.2 L982.3 439.2 L982.8 440.2 L983.3 441.2 L983.8 442.2 L984.4 443.2 L984.9 444.2 L985.5 445.2 L986.0 446.2 L986.5 447.2 L987.0 448.2 L987.5 449.2 L988.0 450.2 L988.4 451.2 L988.8 452.1 L989.2 453.1 L989.5 454.1 L989.7 455.1 L989.9 456.1 L990.0 457.1 L990.1 458.1 L990.1 459.1 L990.0 460.1 L989.9 461.1 L989.7 462.1 L989.5 463.1 L989.3 464.1 L989.0 465.1 L988.7 466.1 L988.4 467.1 L988.0 468.1 L987.7 469.1 L987.3 470.1 L987.0 471.1 L986.7 472.1 L986.3 473.1 L986.0 474.1 L985.7 475.1 L985.5 476.1 L985.3 477.1 L985.1 478.1 L984.9 479.1 L984.8 480.1 L998.2 480.1 L998.1 479.1 L997.9 478.1 L997.7 477.1 L997.5 476.1 L997.3 475.1 L997.0 474.1 L996.7 473.1 L996.3 472.1 L996.0 471.1 L995.7 470.1 L995.3 469.1 L995.0 468.1 L994.6 467.1 L994.3 466.1 L994.0 465.1 L993.7 464.1 L993.5 463.1 L993.3 462.1 L993.1 461.1 L993.0 460.1 L992.9 459.1 L992.9 458.1 L993.0 457.1 L993.1 456.1 L993.3 455.1 L993.5 454.1 L993.8 453.1 L994.2 452.1 L994.6 451.2 L995.0 450.2 L995.5 449.2 L996.0 448.2 L996.5 447.2 L997.0 446.2 L997.5 445.2 L998.1 444.2 L998.6 443.2 L999.2 442.2 L999.7 441.2 L1000.2 440.2 L1000.7 439.2 L1001.2 438.2 L1001.6 437.2 L1002.0 436.2 L1002.4 435.2 L1002.7 434.2 L1002.9 433.2 L1003.1 432.2 L1003.2 431.2 L1003.3 430.2 L1003.3 429.2 L1003.3 428.2 L1003.3 427.2 L1003.3 426.2 L1003.3 425.2 L1003.3 424.2 L1003.3 423.2Z" fill="#7abedb" stroke="#050505" stroke-width="2.4" stroke-linejoin="round"/>
<line x1="979.7" y1="429.4" x2="1003.3" y2="429.4" stroke="#050505" stroke-width="2.2" stroke-opacity="0.85"/>
<path d="M1022.9 380.9 L1022.9 381.9 L1022.9 382.9 L1022.9 383.9 L1022.9 384.9 L1023.0 385.9 L1023.1 387.0 L1023.4 388.0 L1023.8 389.0 L1024.3 390.0 L1024.8 391.0 L1025.4 392.0 L1026.1 393.0 L1026.8 394.0 L1027.5 395.0 L1028.2 396.0 L1028.9 397.1 L1029.6 398.1 L1030.3 399.1 L1030.9 400.1 L1031.4 401.1 L1031.9 402.1 L1032.4 403.1 L1032.7 404.1 L1032.9 405.1 L1033.0 406.1 L1033.0 407.1 L1032.9 408.2 L1032.7 409.2 L1032.5 410.2 L1032.2 411.2 L1031.9 412.2 L1031.6 413.2 L1031.2 414.2 L1030.9 415.2 L1030.5 416.2 L1030.2 417.2 L1029.8 418.3 L1029.5 419.3 L1029.2 420.3 L1029.0 421.3 L1028.8 422.3 L1028.7 423.3 L1042.1 423.3 L1042.0 422.3 L1041.8 421.3 L1041.6 420.3 L1041.3 419.3 L1041.0 418.3 L1040.6 417.2 L1040.3 416.2 L1039.9 415.2 L1039.6 414.2 L1039.2 413.2 L1038.9 412.2 L1038.6 411.2 L1038.3 410.2 L1038.1 409.2 L1037.9 408.2 L1037.8 407.1 L1037.8 406.1 L1037.9 405.1 L1038.1 404.1 L1038.4 403.1 L1038.9 402.1 L1039.4 401.1 L1039.9 400.1 L1040.5 399.1 L1041.2 398.1 L1041.9 397.1 L1042.6 396.0 L1043.3 395.0 L1044.0 394.0 L1044.7 393.0 L1045.4 392.0 L1046.0 391.0 L1046.5 390.0 L1047.0 389.0 L1047.4 388.0 L1047.7 387.0 L1047.8 385.9 L1047.9 384.9 L1047.9 383.9 L1047.9 382.9 L1047.9 381.9 L1047.9 380.9Z" fill="#7abedb" stroke="#050505" stroke-width="2.4" stroke-linejoin="round"/>
<line x1="1022.9" y1="384.9" x2="1047.9" y2="384.9" stroke="#050505" stroke-width="2.2" stroke-opacity="0.85"/>
<path d="M1100.0 474.3 L1100.2 475.3 L1100.6 476.3 L1101.0 477.3 L1101.4 478.3 L1101.9 479.3 L1102.4 480.3 L1102.9 481.3 L1103.3 482.3 L1103.6 483.3 L1103.9 484.3 L1104.0 485.3 L1104.0 486.3 L1103.7 487.3 L1103.4 488.3 L1102.9 489.3 L1102.2 490.3 L1101.5 491.3 L1100.7 492.4 L1099.9 493.4 L1099.1 494.4 L1098.3 495.4 L1097.5 496.4 L1096.8 497.4 L1096.1 498.4 L1095.6 499.4 L1095.3 500.4 L1095.0 501.4 L1095.0 502.4 L1095.0 503.4 L1095.0 504.4 L1095.0 505.4 L1095.0 506.4 L1095.0 507.4 L1095.0 508.4 L1095.0 509.4 L1095.0 510.4 L1119.8 510.4 L1119.8 509.4 L1119.8 508.4 L1119.8 507.4 L1119.8 506.4 L1119.8 505.4 L1119.8 504.4 L1119.8 503.4 L1119.8 502.4 L1119.8 501.4 L1119.5 500.4 L1119.2 499.4 L1118.7 498.4 L1118.0 497.4 L1117.3 496.4 L1116.5 495.4 L1115.7 494.4 L1114.9 493.4 L1114.1 492.4 L1113.3 491.3 L1112.6 490.3 L1111.9 489.3 L1111.4 488.3 L1111.1 487.3 L1110.8 486.3 L1110.8 485.3 L1110.9 484.3 L1111.2 483.3 L1111.5 482.3 L1111.9 481.3 L1112.4 480.3 L1112.9 479.3 L1113.4 478.3 L1113.8 477.3 L1114.2 476.3 L1114.6 475.3 L1114.8 474.3Z" fill="#0b63a3" stroke="#050505" stroke-width="2.4" stroke-linejoin="round"/>
<line x1="1095.0" y1="502.7" x2="1119.8" y2="502.7" stroke="#050505" stroke-width="2.2" stroke-opacity="0.85"/>
<path d="M1142.9 397.1 L1142.8 398.1 L1142.7 399.2 L1138.5 400.2 L1138.5 401.3 L1138.4 402.4 L1138.3 403.4 L1163.1 403.4 L1163.0 402.4 L1162.9 401.3 L1162.9 400.2 L1158.7 399.2 L1158.6 398.1 L1158.5 397.1Z" fill="#0b63a3" stroke="#050505" stroke-width="2.4" stroke-linejoin="round"/>
<path d="M1183.0 364.6 L1183.0 365.6 L1183.0 366.6 L1183.0 367.6 L1183.0 368.6 L1183.0 369.6 L1183.0 370.6 L1183.0 371.6 L1183.0 372.6 L1183.0 373.6 L1183.0 374.6 L1183.0 375.6 L1183.1 376.6 L1183.2 377.6 L1183.3 378.6 L1183.5 379.6 L1183.7 380.6 L1184.0 381.7 L1184.3 382.7 L1184.6 383.7 L1184.9 384.7 L1185.3 385.7 L1185.7 386.7 L1186.1 387.7 L1186.5 388.7 L1186.9 389.7 L1187.3 390.7 L1187.7 391.7 L1188.2 392.7 L1188.6 393.7 L1189.0 394.7 L1189.4 395.7 L1189.7 396.7 L1190.1 397.7 L1190.4 398.7 L1190.7 399.7 L1191.0 400.7 L1191.3 401.7 L1191.5 402.7 L1191.6 403.7 L1191.8 404.7 L1191.9 405.7 L1191.9 406.7 L1191.9 407.7 L1191.8 408.7 L1191.7 409.7 L1191.6 410.7 L1191.5 411.7 L1191.3 412.8 L1191.1 413.8 L1190.9 414.8 L1190.6 415.8 L1190.4 416.8 L1190.1 417.8 L1189.9 418.8 L1189.6 419.8 L1189.4 420.8 L1189.1 421.8 L1188.9 422.8 L1188.7 423.8 L1188.5 424.8 L1188.3 425.8 L1188.2 426.8 L1188.1 427.8 L1188.0 428.8 L1201.2 428.8 L1201.1 427.8 L1201.0 426.8 L1200.9 425.8 L1200.7 424.8 L1200.5 423.8 L1200.3 422.8 L1200.1 421.8 L1199.8 420.8 L1199.6 419.8 L1199.3 418.8 L1199.1 417.8 L1198.8 416.8 L1198.6 415.8 L1198.3 414.8 L1198.1 413.8 L1197.9 412.8 L1197.7 411.7 L1197.6 410.7 L1197.5 409.7 L1197.4 408.7 L1197.3 407.7 L1197.3 406.7 L1197.3 405.7 L1197.4 404.7 L1197.6 403.7 L1197.7 402.7 L1197.9 401.7 L1198.2 400.7 L1198.5 399.7 L1198.8 398.7 L1199.1 397.7 L1199.5 396.7 L1199.8 395.7 L1200.2 394.7 L1200.6 393.7 L1201.0 392.7 L1201.5 391.7 L1201.9 390.7 L1202.3 389.7 L1202.7 388.7 L1203.1 387.7 L1203.5 386.7 L1203.9 385.7 L1204.3 384.7 L1204.6 383.7 L1204.9 382.7 L1205.2 381.7 L1205.5 380.6 L1205.7 379.6 L1205.9 378.6 L1206.0 377.6 L1206.1 376.6 L1206.2 375.6 L1206.2 374.6 L1206.2 373.6 L1206.2 372.6 L1206.2 371.6 L1206.2 370.6 L1206.2 369.6 L1206.2 368.6 L1206.2 367.6 L1206.2 366.6 L1206.2 365.6 L1206.2 364.6Z" fill="#0b63a3" stroke="#050505" stroke-width="2.4" stroke-linejoin="round"/>
<line x1="1183.0" y1="374.5" x2="1206.2" y2="374.5" stroke="#050505" stroke-width="2.2" stroke-opacity="0.85"/>
<path d="M1230.3 429.6 L1230.2 430.6 L1230.1 431.5 L1230.0 432.5 L1226.1 433.4 L1226.1 434.4 L1226.0 435.3 L1225.9 436.3 L1249.9 436.3 L1249.8 435.3 L1249.7 434.4 L1249.7 433.4 L1245.8 432.5 L1245.7 431.5 L1245.6 430.6 L1245.5 429.6Z" fill="#0b63a3" stroke="#050505" stroke-width="2.4" stroke-linejoin="round"/>
<path d="M1298.1 486.4 L1298.1 487.4 L1298.1 488.4 L1298.1 489.4 L1298.1 490.4 L1298.1 491.4 L1298.1 492.4 L1298.1 493.4 L1298.1 494.4 L1298.1 495.4 L1298.1 496.4 L1298.1 497.4 L1298.1 498.4 L1298.1 499.4 L1298.1 500.4 L1298.1 501.4 L1298.1 502.4 L1298.1 503.4 L1298.1 504.4 L1298.1 505.4 L1298.2 506.4 L1298.3 507.4 L1298.5 508.4 L1298.7 509.5 L1299.0 510.5 L1299.3 511.5 L1299.6 512.5 L1299.9 513.5 L1300.2 514.5 L1300.4 515.5 L1300.7 516.5 L1300.9 517.5 L1301.0 518.5 L1301.1 519.5 L1301.1 520.5 L1301.0 521.5 L1300.9 522.5 L1300.7 523.5 L1300.6 524.5 L1300.3 525.5 L1300.1 526.5 L1299.9 527.5 L1299.7 528.5 L1299.5 529.5 L1299.4 530.5 L1299.2 531.5 L1319.8 531.5 L1319.6 530.5 L1319.5 529.5 L1319.3 528.5 L1319.1 527.5 L1318.9 526.5 L1318.7 525.5 L1318.4 524.5 L1318.3 523.5 L1318.1 522.5 L1318.0 521.5 L1317.9 520.5 L1317.9 519.5 L1318.0 518.5 L1318.1 517.5 L1318.3 516.5 L1318.6 515.5 L1318.8 514.5 L1319.1 513.5 L1319.4 512.5 L1319.7 511.5 L1320.0 510.5 L1320.3 509.5 L1320.5 508.4 L1320.7 507.4 L1320.8 506.4 L1320.9 505.4 L1320.9 504.4 L1320.9 503.4 L1320.9 502.4 L1320.9 501.4 L1320.9 500.4 L1320.9 499.4 L1320.9 498.4 L1320.9 497.4 L1320.9 496.4 L1320.9 495.4 L1320.9 494.4 L1320.9 493.4 L1320.9 492.4 L1320.9 491.4 L1320.9 490.4 L1320.9 489.4 L1320.9 488.4 L1320.9 487.4 L1320.9 486.4Z" fill="#70cb59" stroke="#050505" stroke-width="2.4" stroke-linejoin="round"/>
<line x1="1298.1" y1="505.2" x2="1320.9" y2="505.2" stroke="#050505" stroke-width="2.2" stroke-opacity="0.32"/>
<path d="M1348.0 317.5 L1348.2 318.5 L1348.6 319.5 L1348.9 320.5 L1349.4 321.5 L1349.8 322.6 L1350.3 323.6 L1350.7 324.6 L1351.0 325.6 L1351.3 326.6 L1351.4 327.6 L1351.3 328.6 L1351.0 329.6 L1350.5 330.6 L1349.7 331.7 L1348.8 332.7 L1347.8 333.7 L1346.7 334.7 L1345.6 335.7 L1344.5 336.7 L1343.6 337.7 L1342.7 338.7 L1342.0 339.7 L1341.5 340.8 L1341.3 341.8 L1341.3 342.8 L1341.3 343.8 L1341.3 344.8 L1366.1 344.8 L1366.1 343.8 L1366.1 342.8 L1366.1 341.8 L1365.9 340.8 L1365.4 339.7 L1364.7 338.7 L1363.8 337.7 L1362.9 336.7 L1361.8 335.7 L1360.7 334.7 L1359.6 333.7 L1358.6 332.7 L1357.7 331.7 L1356.9 330.6 L1356.4 329.6 L1356.1 328.6 L1356.0 327.6 L1356.1 326.6 L1356.4 325.6 L1356.7 324.6 L1357.1 323.6 L1357.6 322.6 L1358.0 321.5 L1358.5 320.5 L1358.8 319.5 L1359.2 318.5 L1359.4 317.5Z" fill="#70cb59" stroke="#050505" stroke-width="2.4" stroke-linejoin="round"/>
<path d="M1385.2 502.7 L1385.2 503.7 L1385.2 504.7 L1385.2 505.7 L1385.2 506.7 L1385.2 507.7 L1385.2 508.7 L1385.2 509.7 L1385.2 510.7 L1385.2 511.7 L1385.2 512.7 L1385.2 513.7 L1385.2 514.7 L1385.2 515.7 L1385.2 516.7 L1385.3 517.7 L1385.4 518.7 L1385.6 519.7 L1385.8 520.7 L1386.1 521.7 L1386.4 522.7 L1386.7 523.7 L1387.1 524.7 L1387.5 525.7 L1387.9 526.7 L1388.4 527.7 L1388.8 528.7 L1389.3 529.7 L1389.8 530.7 L1390.2 531.7 L1390.7 532.7 L1391.1 533.7 L1391.6 534.6 L1392.0 535.6 L1392.4 536.6 L1392.8 537.6 L1393.1 538.6 L1393.4 539.6 L1393.7 540.6 L1393.9 541.6 L1394.1 542.6 L1394.2 543.6 L1394.3 544.6 L1394.3 545.6 L1394.3 546.6 L1394.2 547.6 L1394.0 548.6 L1393.9 549.6 L1393.7 550.6 L1393.5 551.6 L1393.3 552.6 L1393.0 553.6 L1392.7 554.6 L1392.5 555.6 L1392.2 556.6 L1391.9 557.6 L1391.7 558.6 L1391.4 559.6 L1391.2 560.6 L1391.0 561.6 L1390.8 562.6 L1390.6 563.6 L1390.5 564.6 L1390.4 565.6 L1403.6 565.6 L1403.5 564.6 L1403.4 563.6 L1403.2 562.6 L1403.0 561.6 L1402.8 560.6 L1402.6 559.6 L1402.3 558.6 L1402.1 557.6 L1401.8 556.6 L1401.5 555.6 L1401.3 554.6 L1401.0 553.6 L1400.7 552.6 L1400.5 551.6 L1400.3 550.6 L1400.1 549.6 L1400.0 548.6 L1399.8 547.6 L1399.7 546.6 L1399.7 545.6 L1399.7 544.6 L1399.8 543.6 L1399.9 542.6 L1400.1 541.6 L1400.3 540.6 L1400.6 539.6 L1400.9 538.6 L1401.2 537.6 L1401.6 536.6 L1402.0 535.6 L1402.4 534.6 L1402.9 533.7 L1403.3 532.7 L1403.8 531.7 L1404.2 530.7 L1404.7 529.7 L1405.2 528.7 L1405.6 527.7 L1406.1 526.7 L1406.5 525.7 L1406.9 524.7 L1407.3 523.7 L1407.6 522.7 L1407.9 521.7 L1408.2 520.7 L1408.4 519.7 L1408.6 518.7 L1408.7 517.7 L1408.8 516.7 L1408.8 515.7 L1408.8 514.7 L1408.8 513.7 L1408.8 512.7 L1408.8 511.7 L1408.8 510.7 L1408.8 509.7 L1408.8 508.7 L1408.8 507.7 L1408.8 506.7 L1408.8 505.7 L1408.8 504.7 L1408.8 503.7 L1408.8 502.7Z" fill="#70cb59" stroke="#050505" stroke-width="2.4" stroke-linejoin="round"/>
<line x1="1385.2" y1="515.9" x2="1408.8" y2="515.9" stroke="#050505" stroke-width="2.2" stroke-opacity="0.32"/>
<path d="M1428.3 518.0 L1428.3 519.0 L1428.3 520.0 L1428.3 521.0 L1428.3 522.0 L1428.3 523.0 L1428.3 524.0 L1428.4 525.0 L1428.5 526.0 L1428.5 527.0 L1428.6 528.0 L1428.8 529.0 L1428.9 530.0 L1429.0 531.0 L1429.2 532.0 L1429.4 533.0 L1429.6 534.0 L1429.8 535.0 L1430.0 536.0 L1430.2 537.0 L1430.4 538.0 L1430.6 539.0 L1430.9 540.0 L1431.1 541.0 L1431.4 542.0 L1431.7 543.0 L1431.9 544.0 L1432.2 545.0 L1432.5 546.0 L1432.7 547.0 L1433.0 548.0 L1433.3 549.0 L1433.6 550.0 L1433.9 551.0 L1434.1 552.0 L1434.4 553.0 L1434.7 554.0 L1434.9 555.0 L1435.2 556.0 L1435.5 557.0 L1435.7 558.0 L1436.0 559.0 L1436.2 560.0 L1436.4 561.0 L1436.7 562.0 L1436.9 563.0 L1437.1 564.0 L1437.3 565.0 L1437.4 566.0 L1437.6 567.0 L1437.8 568.0 L1437.9 569.0 L1438.0 570.0 L1438.1 571.0 L1438.2 572.0 L1438.3 573.0 L1438.3 574.0 L1438.4 575.0 L1438.4 576.0 L1438.4 577.0 L1438.4 578.0 L1438.3 579.0 L1438.3 580.0 L1438.2 581.0 L1438.1 582.0 L1438.0 583.0 L1437.9 584.0 L1437.8 585.0 L1437.7 586.0 L1437.6 587.0 L1437.4 588.0 L1437.3 589.0 L1437.1 590.0 L1436.9 591.0 L1436.8 592.0 L1436.6 593.0 L1436.4 594.0 L1436.3 595.0 L1436.1 596.0 L1435.9 597.0 L1435.7 598.0 L1435.6 599.0 L1435.4 600.0 L1435.2 601.0 L1435.1 602.0 L1434.9 603.0 L1434.8 604.0 L1434.7 605.0 L1434.5 606.0 L1434.4 607.0 L1434.3 608.0 L1434.2 609.0 L1434.2 610.0 L1434.1 611.0 L1434.0 612.0 L1434.0 613.0 L1446.8 613.0 L1446.8 612.0 L1446.7 611.0 L1446.6 610.0 L1446.6 609.0 L1446.5 608.0 L1446.4 607.0 L1446.3 606.0 L1446.1 605.0 L1446.0 604.0 L1445.9 603.0 L1445.7 602.0 L1445.6 601.0 L1445.4 600.0 L1445.2 599.0 L1445.1 598.0 L1444.9 597.0 L1444.7 596.0 L1444.5 595.0 L1444.4 594.0 L1444.2 593.0 L1444.0 592.0 L1443.9 591.0 L1443.7 590.0 L1443.5 589.0 L1443.4 588.0 L1443.2 587.0 L1443.1 586.0 L1443.0 585.0 L1442.9 584.0 L1442.8 583.0 L1442.7 582.0 L1442.6 581.0 L1442.5 580.0 L1442.5 579.0 L1442.4 578.0 L1442.4 577.0 L1442.4 576.0 L1442.4 575.0 L1442.5 574.0 L1442.5 573.0 L1442.6 572.0 L1442.7 571.0 L1442.8 570.0 L1442.9 569.0 L1443.0 568.0 L1443.2 567.0 L1443.4 566.0 L1443.5 565.0 L1443.7 564.0 L1443.9 563.0 L1444.1 562.0 L1444.4 561.0 L1444.6 560.0 L1444.8 559.0 L1445.1 558.0 L1445.3 557.0 L1445.6 556.0 L1445.9 555.0 L1446.1 554.0 L1446.4 553.0 L1446.7 552.0 L1446.9 551.0 L1447.2 550.0 L1447.5 549.0 L1447.8 548.0 L1448.1 547.0 L1448.3 546.0 L1448.6 545.0 L1448.9 544.0 L1449.1 543.0 L1449.4 542.0 L1449.7 541.0 L1449.9 540.0 L1450.2 539.0 L1450.4 538.0 L1450.6 537.0 L1450.8 536.0 L1451.0 535.0 L1451.2 534.0 L1451.4 533.0 L1451.6 532.0 L1451.8 531.0 L1451.9 530.0 L1452.0 529.0 L1452.2 528.0 L1452.3 527.0 L1452.3 526.0 L1452.4 525.0 L1452.5 524.0 L1452.5 523.0 L1452.5 522.0 L1452.5 521.0 L1452.5 520.0 L1452.5 519.0 L1452.5 518.0Z" fill="#70cb59" stroke="#050505" stroke-width="2.4" stroke-linejoin="round"/>
<line x1="1428.3" y1="520.5" x2="1452.5" y2="520.5" stroke="#050505" stroke-width="4.5" stroke-opacity="0.5"/>
<path d="M1506.4 498.7 L1506.7 499.7 L1507.1 500.7 L1507.6 501.8 L1508.1 502.8 L1508.6 503.8 L1509.1 504.8 L1509.4 505.8 L1509.7 506.9 L1509.8 507.9 L1509.6 508.9 L1509.2 509.9 L1508.6 510.9 L1507.7 511.9 L1506.7 513.0 L1505.7 514.0 L1504.6 515.0 L1503.6 516.0 L1502.6 517.0 L1501.8 518.1 L1501.1 519.1 L1500.7 520.1 L1500.6 521.1 L1500.6 522.1 L1500.6 523.2 L1500.6 524.2 L1500.6 525.2 L1524.4 525.2 L1524.4 524.2 L1524.4 523.2 L1524.4 522.1 L1524.4 521.1 L1524.3 520.1 L1523.9 519.1 L1523.2 518.1 L1522.4 517.0 L1521.4 516.0 L1520.4 515.0 L1519.3 514.0 L1518.3 513.0 L1517.3 511.9 L1516.4 510.9 L1515.8 509.9 L1515.4 508.9 L1515.2 507.9 L1515.3 506.9 L1515.6 505.8 L1515.9 504.8 L1516.4 503.8 L1516.9 502.8 L1517.4 501.8 L1517.9 500.7 L1518.3 499.7 L1518.6 498.7Z" fill="#089a48" stroke="#050505" stroke-width="2.4" stroke-linejoin="round"/>
<line x1="1500.6" y1="520.5" x2="1524.4" y2="520.5" stroke="#050505" stroke-width="2.2" stroke-opacity="0.85"/>
<path d="M1544.2 478.2 L1544.2 479.2 L1544.2 480.2 L1544.2 481.2 L1544.2 482.2 L1544.2 483.2 L1544.2 484.2 L1544.2 485.2 L1544.2 486.2 L1544.2 487.2 L1544.2 488.2 L1544.2 489.2 L1544.2 490.2 L1544.2 491.2 L1544.2 492.2 L1544.2 493.2 L1544.2 494.2 L1544.2 495.2 L1544.2 496.2 L1544.2 497.2 L1544.2 498.2 L1544.3 499.2 L1544.5 500.3 L1544.7 501.3 L1545.0 502.3 L1545.3 503.3 L1545.6 504.3 L1545.9 505.3 L1546.1 506.3 L1546.3 507.3 L1546.4 508.3 L1546.5 509.3 L1546.5 510.3 L1546.4 511.3 L1546.3 512.3 L1546.2 513.3 L1546.0 514.3 L1545.9 515.3 L1545.7 516.3 L1545.6 517.3 L1545.4 518.3 L1545.3 519.3 L1545.2 520.3 L1566.8 520.3 L1566.7 519.3 L1566.6 518.3 L1566.4 517.3 L1566.3 516.3 L1566.1 515.3 L1566.0 514.3 L1565.8 513.3 L1565.7 512.3 L1565.6 511.3 L1565.5 510.3 L1565.5 509.3 L1565.6 508.3 L1565.7 507.3 L1565.9 506.3 L1566.1 505.3 L1566.4 504.3 L1566.7 503.3 L1567.0 502.3 L1567.3 501.3 L1567.5 500.3 L1567.7 499.2 L1567.8 498.2 L1567.8 497.2 L1567.8 496.2 L1567.8 495.2 L1567.8 494.2 L1567.8 493.2 L1567.8 492.2 L1567.8 491.2 L1567.8 490.2 L1567.8 489.2 L1567.8 488.2 L1567.8 487.2 L1567.8 486.2 L1567.8 485.2 L1567.8 484.2 L1567.8 483.2 L1567.8 482.2 L1567.8 481.2 L1567.8 480.2 L1567.8 479.2 L1567.8 478.2Z" fill="#089a48" stroke="#050505" stroke-width="2.4" stroke-linejoin="round"/>
<line x1="1544.2" y1="497.5" x2="1567.8" y2="497.5" stroke="#050505" stroke-width="2.2" stroke-opacity="0.85"/>
<path d="M1588.5 445.6 L1588.4 446.6 L1588.4 447.6 L1588.3 448.6 L1588.2 449.6 L1588.2 450.5 L1588.1 451.5 L1588.0 452.5 L1587.9 453.5 L1587.8 454.5 L1587.7 455.5 L1587.6 456.5 L1587.6 457.5 L1587.5 458.5 L1587.5 459.4 L1587.5 460.4 L1587.5 461.4 L1587.5 462.4 L1587.5 463.4 L1587.5 464.4 L1587.5 465.4 L1587.5 466.4 L1587.5 467.4 L1587.5 468.3 L1587.5 469.3 L1587.5 470.3 L1587.5 471.3 L1587.5 472.3 L1611.1 472.3 L1611.1 471.3 L1611.1 470.3 L1611.1 469.3 L1611.1 468.3 L1611.1 467.4 L1611.1 466.4 L1611.1 465.4 L1611.1 464.4 L1611.1 463.4 L1611.1 462.4 L1611.1 461.4 L1611.1 460.4 L1611.1 459.4 L1611.1 458.5 L1611.0 457.5 L1611.0 456.5 L1610.9 455.5 L1610.8 454.5 L1610.7 453.5 L1610.6 452.5 L1610.5 451.5 L1610.4 450.5 L1610.4 449.6 L1610.3 448.6 L1610.2 447.6 L1610.2 446.6 L1610.1 445.6Z" fill="#089a48" stroke="#050505" stroke-width="2.4" stroke-linejoin="round"/>
<line x1="1587.5" y1="460.4" x2="1611.1" y2="460.4" stroke="#050505" stroke-width="2.2" stroke-opacity="0.85"/>
<path d="M1631.8 502.4 L1631.8 503.4 L1631.8 504.4 L1631.8 505.4 L1631.8 506.4 L1631.8 507.4 L1631.8 508.3 L1631.8 509.3 L1631.8 510.3 L1631.8 511.3 L1631.8 512.3 L1631.8 513.3 L1631.8 514.3 L1631.8 515.3 L1632.0 516.3 L1632.3 517.3 L1632.8 518.3 L1633.3 519.3 L1633.9 520.2 L1634.5 521.2 L1635.1 522.2 L1635.6 523.2 L1636.0 524.2 L1636.2 525.2 L1636.2 526.2 L1636.1 527.2 L1636.0 528.2 L1635.8 529.2 L1635.5 530.2 L1635.3 531.2 L1635.0 532.1 L1634.7 533.1 L1634.5 534.1 L1634.3 535.1 L1634.1 536.1 L1634.0 537.1 L1652.4 537.1 L1652.3 536.1 L1652.1 535.1 L1651.9 534.1 L1651.7 533.1 L1651.4 532.1 L1651.1 531.2 L1650.9 530.2 L1650.6 529.2 L1650.4 528.2 L1650.3 527.2 L1650.2 526.2 L1650.2 525.2 L1650.4 524.2 L1650.8 523.2 L1651.3 522.2 L1651.9 521.2 L1652.5 520.2 L1653.1 519.3 L1653.6 518.3 L1654.1 517.3 L1654.4 516.3 L1654.6 515.3 L1654.6 514.3 L1654.6 513.3 L1654.6 512.3 L1654.6 511.3 L1654.6 510.3 L1654.6 509.3 L1654.6 508.3 L1654.6 507.4 L1654.6 506.4 L1654.6 505.4 L1654.6 504.4 L1654.6 503.4 L1654.6 502.4Z" fill="#089a48" stroke="#050505" stroke-width="2.4" stroke-linejoin="round"/>
<line x1="1631.8" y1="515.3" x2="1654.6" y2="515.3" stroke="#050505" stroke-width="2.2" stroke-opacity="0.32"/>
<g fill="#050505" stroke="#050505" stroke-width="0.45" stroke-linejoin="round" font-family="'Liberation Sans', Arial, Helvetica, sans-serif">
<text x="232.5" y="982.5" font-size="43.5" text-anchor="end" stroke-width="0.2">1</text>
<text x="232.5" y="711.0" font-size="43.5" text-anchor="end" stroke-width="0.2">10</text>
<text x="232.5" y="439.5" font-size="43.5" text-anchor="end" stroke-width="0.2">100</text>
<text x="232.5" y="168.0" font-size="43.5" text-anchor="end" stroke-width="0.2">1000</text>
<text x="297.5" y="1032.6" font-size="43.5" text-anchor="middle" stroke-width="0.2">1</text>
<text x="340.9" y="1032.6" font-size="43.5" text-anchor="middle" stroke-width="0.2">2</text>
<text x="384.2" y="1032.6" font-size="43.5" text-anchor="middle" stroke-width="0.2">3</text>
<text x="428.0" y="1032.6" font-size="43.5" text-anchor="middle" stroke-width="0.2">4</text>
<text x="500.0" y="1032.6" font-size="43.5" text-anchor="middle" stroke-width="0.2">1</text>
<text x="543.5" y="1032.6" font-size="43.5" text-anchor="middle" stroke-width="0.2">2</text>
<text x="587.2" y="1032.6" font-size="43.5" text-anchor="middle" stroke-width="0.2">3</text>
<text x="630.5" y="1032.6" font-size="43.5" text-anchor="middle" stroke-width="0.2">4</text>
<text x="702.2" y="1032.6" font-size="43.5" text-anchor="middle" stroke-width="0.2">1</text>
<text x="746.1" y="1032.6" font-size="43.5" text-anchor="middle" stroke-width="0.2">2</text>
<text x="789.7" y="1032.6" font-size="43.5" text-anchor="middle" stroke-width="0.2">3</text>
<text x="832.9" y="1032.6" font-size="43.5" text-anchor="middle" stroke-width="0.2">4</text>
<text x="904.6" y="1032.6" font-size="43.5" text-anchor="middle" stroke-width="0.2">1</text>
<text x="948.4" y="1032.6" font-size="43.5" text-anchor="middle" stroke-width="0.2">2</text>
<text x="991.2" y="1032.6" font-size="43.5" text-anchor="middle" stroke-width="0.2">3</text>
<text x="1035.1" y="1032.6" font-size="43.5" text-anchor="middle" stroke-width="0.2">4</text>
<text x="1107.1" y="1032.6" font-size="43.5" text-anchor="middle" stroke-width="0.2">1</text>
<text x="1150.4" y="1032.6" font-size="43.5" text-anchor="middle" stroke-width="0.2">2</text>
<text x="1194.3" y="1032.6" font-size="43.5" text-anchor="middle" stroke-width="0.2">3</text>
<text x="1237.6" y="1032.6" font-size="43.5" text-anchor="middle" stroke-width="0.2">4</text>
<text x="1309.2" y="1032.6" font-size="43.5" text-anchor="middle" stroke-width="0.2">1</text>
<text x="1353.4" y="1032.6" font-size="43.5" text-anchor="middle" stroke-width="0.2">2</text>
<text x="1396.7" y="1032.6" font-size="43.5" text-anchor="middle" stroke-width="0.2">3</text>
<text x="1440.1" y="1032.6" font-size="43.5" text-anchor="middle" stroke-width="0.2">4</text>
<text x="1512.2" y="1032.6" font-size="43.5" text-anchor="middle" stroke-width="0.2">1</text>
<text x="1555.7" y="1032.6" font-size="43.5" text-anchor="middle" stroke-width="0.2">2</text>
<text x="1599.0" y="1032.6" font-size="43.5" text-anchor="middle" stroke-width="0.2">3</text>
<text x="1642.9" y="1032.6" font-size="43.5" text-anchor="middle" stroke-width="0.2">4</text>
<text x="976.8" y="1096.0" font-size="50.8" font-weight="bold" text-anchor="middle">Replicates</text>
<text x="975.5" y="88.7" font-size="60.1" font-weight="bold" text-anchor="middle">Whole OVA</text>
<text x="90" y="87.7" font-size="70.5" stroke="none" fill="#262626">(A)</text>
<text transform="translate(65.5 554.0) rotate(-90)" font-size="51" font-weight="bold" text-anchor="middle">IL-4 T cell responses</text>
<text transform="translate(126.2 550.1) rotate(-90)" font-size="51.05" font-weight="bold" text-anchor="middle">following 2 immunisations</text>
</g>
<g stroke="#2a2a2a" stroke-width="2.9" fill="none" stroke-linecap="butt">
<line x1="241.5" y1="1270.4" x2="1680.9" y2="1270.4" stroke-width="2.3"/>
<line x1="241.5" y1="2084.5" x2="1680.9" y2="2084.5" stroke-width="3.4"/>
<line x1="269.0" y1="1265.4" x2="269.0" y2="2089.5" stroke-width="2.4" stroke="#262626"/>
<line x1="1675.9" y1="1264.9" x2="1675.9" y2="2089.5" stroke-width="3.2"/>
<line x1="464.9" y1="1270.4" x2="464.9" y2="2084.5" stroke-width="2.8"/>
<line x1="666.6" y1="1270.4" x2="666.6" y2="2084.5" stroke-width="2.8"/>
<line x1="868.8" y1="1270.4" x2="868.8" y2="2084.5" stroke-width="2.8"/>
<line x1="1071.8" y1="1270.4" x2="1071.8" y2="2084.5" stroke-width="2.8"/>
<line x1="1274.4" y1="1270.4" x2="1274.4" y2="2084.5" stroke-width="2.8"/>
<line x1="1476.4" y1="1270.4" x2="1476.4" y2="2084.5" stroke-width="2.2" stroke="#000"/>
<line x1="252" y1="2002.8" x2="269.0" y2="2002.8" stroke-width="2.7"/>
<line x1="252" y1="1955.0" x2="269.0" y2="1955.0" stroke-width="2.7"/>
<line x1="252" y1="1921.1" x2="269.0" y2="1921.1" stroke-width="2.7"/>
<line x1="252" y1="1894.8" x2="269.0" y2="1894.8" stroke-width="2.7"/>
<line x1="252" y1="1873.3" x2="269.0" y2="1873.3" stroke-width="2.7"/>
<line x1="252" y1="1855.2" x2="269.0" y2="1855.2" stroke-width="2.7"/>
<line x1="252" y1="1839.4" x2="269.0" y2="1839.4" stroke-width="2.7"/>
<line x1="252" y1="1825.6" x2="269.0" y2="1825.6" stroke-width="2.7"/>
<line x1="241.5" y1="1813.1" x2="269.0" y2="1813.1"/>
<line x1="252" y1="1731.4" x2="269.0" y2="1731.4" stroke-width="2.7"/>
<line x1="252" y1="1683.7" x2="269.0" y2="1683.7" stroke-width="2.7"/>
<line x1="252" y1="1649.8" x2="269.0" y2="1649.8" stroke-width="2.7"/>
<line x1="252" y1="1623.5" x2="269.0" y2="1623.5" stroke-width="2.7"/>
<line x1="252" y1="1602.0" x2="269.0" y2="1602.0" stroke-width="2.7"/>
<line x1="252" y1="1583.8" x2="269.0" y2="1583.8" stroke-width="2.7"/>
<line x1="252" y1="1568.1" x2="269.0" y2="1568.1" stroke-width="2.7"/>
<line x1="252" y1="1554.2" x2="269.0" y2="1554.2" stroke-width="2.7"/>
<line x1="241.5" y1="1541.8" x2="269.0" y2="1541.8"/>
<line x1="252" y1="1460.1" x2="269.0" y2="1460.1" stroke-width="2.7"/>
<line x1="252" y1="1412.3" x2="269.0" y2="1412.3" stroke-width="2.7"/>
<line x1="252" y1="1378.4" x2="269.0" y2="1378.4" stroke-width="2.7"/>
<line x1="252" y1="1352.1" x2="269.0" y2="1352.1" stroke-width="2.7"/>
<line x1="252" y1="1330.6" x2="269.0" y2="1330.6" stroke-width="2.7"/>
<line x1="252" y1="1312.4" x2="269.0" y2="1312.4" stroke-width="2.7"/>
<line x1="252" y1="1296.7" x2="269.0" y2="1296.7" stroke-width="2.7"/>
<line x1="252" y1="1282.8" x2="269.0" y2="1282.8" stroke-width="2.7"/>
<line x1="297.6" y1="2084.5" x2="297.6" y2="2112.5"/>
<line x1="341.3" y1="2084.5" x2="341.3" y2="2112.5"/>
<line x1="384.6" y1="2084.5" x2="384.6" y2="2112.5"/>
<line x1="428.1" y1="2084.5" x2="428.1" y2="2112.5"/>
<line x1="500.1" y1="2084.5" x2="500.1" y2="2112.5"/>
<line x1="543.6" y1="2084.5" x2="543.6" y2="2112.5"/>
<line x1="587.0" y1="2084.5" x2="587.0" y2="2112.5"/>
<line x1="630.3" y1="2084.5" x2="630.3" y2="2112.5"/>
<line x1="702.3" y1="2084.5" x2="702.3" y2="2112.5"/>
<line x1="746.1" y1="2084.5" x2="746.1" y2="2112.5"/>
<line x1="789.8" y1="2084.5" x2="789.8" y2="2112.5"/>
<line x1="833.0" y1="2084.5" x2="833.0" y2="2112.5"/>
<line x1="904.7" y1="2084.5" x2="904.7" y2="2112.5"/>
<line x1="948.5" y1="2084.5" x2="948.5" y2="2112.5"/>
<line x1="991.8" y1="2084.5" x2="991.8" y2="2112.5"/>
<line x1="1035.2" y1="2084.5" x2="1035.2" y2="2112.5"/>
<line x1="1107.2" y1="2084.5" x2="1107.2" y2="2112.5"/>
<line x1="1150.5" y1="2084.5" x2="1150.5" y2="2112.5"/>
<line x1="1194.4" y1="2084.5" x2="1194.4" y2="2112.5"/>
<line x1="1237.7" y1="2084.5" x2="1237.7" y2="2112.5"/>
<line x1="1309.3" y1="2084.5" x2="1309.3" y2="2112.5"/>
<line x1="1353.5" y1="2084.5" x2="1353.5" y2="2112.5"/>
<line x1="1396.8" y1="2084.5" x2="1396.8" y2="2112.5"/>
<line x1="1440.2" y1="2084.5" x2="1440.2" y2="2112.5"/>
<line x1="1512.3" y1="2084.5" x2="1512.3" y2="2112.5"/>
<line x1="1555.8" y1="2084.5" x2="1555.8" y2="2112.5"/>
<line x1="1599.1" y1="2084.5" x2="1599.1" y2="2112.5"/>
<line x1="1643.0" y1="2084.5" x2="1643.0" y2="2112.5"/>
</g>
<path d="M293.1 1745.7 L294.1 1746.7 L295.3 1747.8 L296.3 1748.8 L296.6 1749.8 L295.6 1750.9 L293.4 1751.9 L290.7 1753.0 L288.1 1754.0 L286.1 1755.0 L285.4 1756.1 L285.4 1757.1 L310.2 1757.1 L310.2 1756.1 L309.5 1755.0 L307.5 1754.0 L304.9 1753.0 L302.2 1751.9 L300.0 1750.9 L299.0 1749.8 L299.3 1748.8 L300.3 1747.8 L301.5 1746.7 L302.5 1745.7Z" fill="#d08c53" stroke="#050505" stroke-width="2.4" stroke-linejoin="round"/>
<path d="M331.0 1722.0 L331.1 1723.0 L331.1 1724.0 L331.2 1725.0 L331.3 1726.0 L331.4 1727.0 L331.5 1728.0 L331.6 1729.0 L331.8 1730.0 L331.9 1731.0 L332.1 1731.9 L332.2 1732.9 L332.4 1733.9 L332.6 1734.9 L332.7 1735.9 L332.9 1736.9 L333.0 1737.9 L333.2 1738.9 L333.3 1739.9 L333.5 1740.9 L333.6 1741.9 L333.7 1742.9 L333.8 1743.9 L333.9 1744.9 L333.9 1745.9 L334.0 1746.9 L334.0 1747.9 L334.0 1748.8 L334.0 1749.8 L333.9 1750.8 L333.8 1751.8 L333.7 1752.8 L333.5 1753.8 L333.4 1754.8 L333.2 1755.8 L333.0 1756.8 L332.8 1757.8 L332.6 1758.8 L332.4 1759.8 L332.2 1760.8 L332.0 1761.8 L331.8 1762.8 L331.6 1763.8 L331.4 1764.8 L331.2 1765.8 L331.0 1766.8 L330.8 1767.7 L330.7 1768.7 L330.6 1769.7 L330.5 1770.7 L330.4 1771.7 L330.3 1772.7 L330.3 1773.7 L330.3 1774.7 L330.3 1775.7 L330.3 1776.7 L330.3 1777.7 L330.3 1778.7 L330.3 1779.7 L330.3 1780.7 L330.3 1781.7 L330.3 1782.7 L330.3 1783.7 L330.3 1784.7 L330.3 1785.6 L330.2 1786.6 L330.2 1787.6 L330.2 1788.6 L330.2 1789.6 L330.2 1790.6 L330.2 1791.6 L330.2 1792.6 L330.2 1793.6 L330.2 1794.6 L330.2 1795.6 L330.2 1796.6 L330.2 1797.6 L330.2 1798.6 L330.2 1799.6 L330.1 1800.6 L330.1 1801.6 L330.1 1802.5 L330.1 1803.5 L330.1 1804.5 L330.1 1805.5 L330.1 1806.5 L330.1 1807.5 L330.1 1808.5 L330.1 1809.5 L330.1 1810.5 L330.1 1811.5 L352.9 1811.5 L352.9 1810.5 L352.9 1809.5 L352.9 1808.5 L352.9 1807.5 L352.9 1806.5 L352.9 1805.5 L352.9 1804.5 L352.9 1803.5 L352.9 1802.5 L352.9 1801.6 L352.9 1800.6 L352.8 1799.6 L352.8 1798.6 L352.8 1797.6 L352.8 1796.6 L352.8 1795.6 L352.8 1794.6 L352.8 1793.6 L352.8 1792.6 L352.8 1791.6 L352.8 1790.6 L352.8 1789.6 L352.8 1788.6 L352.8 1787.6 L352.8 1786.6 L352.7 1785.6 L352.7 1784.7 L352.7 1783.7 L352.7 1782.7 L352.7 1781.7 L352.7 1780.7 L352.7 1779.7 L352.7 1778.7 L352.7 1777.7 L352.7 1776.7 L352.7 1775.7 L352.7 1774.7 L352.7 1773.7 L352.7 1772.7 L352.6 1771.7 L352.5 1770.7 L352.4 1769.7 L352.3 1768.7 L352.2 1767.7 L352.0 1766.8 L351.8 1765.8 L351.6 1764.8 L351.4 1763.8 L351.2 1762.8 L351.0 1761.8 L350.8 1760.8 L350.6 1759.8 L350.4 1758.8 L350.2 1757.8 L350.0 1756.8 L349.8 1755.8 L349.6 1754.8 L349.5 1753.8 L349.3 1752.8 L349.2 1751.8 L349.1 1750.8 L349.0 1749.8 L349.0 1748.8 L349.0 1747.9 L349.0 1746.9 L349.1 1745.9 L349.1 1744.9 L349.2 1743.9 L349.3 1742.9 L349.4 1741.9 L349.5 1740.9 L349.7 1739.9 L349.8 1738.9 L350.0 1737.9 L350.1 1736.9 L350.3 1735.9 L350.4 1734.9 L350.6 1733.9 L350.8 1732.9 L350.9 1731.9 L351.1 1731.0 L351.2 1730.0 L351.4 1729.0 L351.5 1728.0 L351.6 1727.0 L351.7 1726.0 L351.8 1725.0 L351.9 1724.0 L351.9 1723.0 L352.0 1722.0Z" fill="#d08c53" stroke="#050505" stroke-width="2.4" stroke-linejoin="round"/>
<line x1="330.3" y1="1774.2" x2="352.7" y2="1774.2" stroke="#050505" stroke-width="2.2" stroke-opacity="0.85"/>
<path d="M379.3 1663.4 L379.4 1664.4 L379.5 1665.4 L379.6 1666.4 L379.7 1667.4 L379.8 1668.4 L380.0 1669.4 L380.2 1670.4 L380.4 1671.4 L380.6 1672.4 L380.8 1673.4 L381.1 1674.4 L381.3 1675.5 L381.6 1676.5 L381.8 1677.5 L382.0 1678.5 L382.3 1679.5 L382.5 1680.5 L382.7 1681.5 L383.0 1682.5 L383.2 1683.5 L383.4 1684.5 L383.5 1685.5 L383.7 1686.5 L383.8 1687.5 L383.9 1688.5 L384.0 1689.5 L384.1 1690.5 L384.1 1691.5 L384.1 1692.5 L384.0 1693.5 L383.9 1694.5 L383.8 1695.5 L383.5 1696.5 L383.3 1697.6 L383.0 1698.6 L382.7 1699.6 L382.3 1700.6 L381.9 1701.6 L381.5 1702.6 L381.1 1703.6 L380.7 1704.6 L380.2 1705.6 L379.7 1706.6 L379.2 1707.6 L378.7 1708.6 L378.2 1709.6 L377.7 1710.6 L377.2 1711.6 L376.7 1712.6 L376.3 1713.6 L375.8 1714.6 L375.4 1715.6 L374.9 1716.6 L374.5 1717.6 L374.2 1718.6 L373.8 1719.7 L373.5 1720.7 L373.2 1721.7 L373.0 1722.7 L372.8 1723.7 L372.6 1724.7 L372.5 1725.7 L372.5 1726.7 L372.5 1727.7 L372.5 1728.7 L372.5 1729.7 L372.5 1730.7 L397.1 1730.7 L397.1 1729.7 L397.1 1728.7 L397.1 1727.7 L397.1 1726.7 L397.1 1725.7 L397.0 1724.7 L396.8 1723.7 L396.6 1722.7 L396.4 1721.7 L396.1 1720.7 L395.8 1719.7 L395.4 1718.6 L395.1 1717.6 L394.7 1716.6 L394.2 1715.6 L393.8 1714.6 L393.3 1713.6 L392.9 1712.6 L392.4 1711.6 L391.9 1710.6 L391.4 1709.6 L390.9 1708.6 L390.4 1707.6 L389.9 1706.6 L389.4 1705.6 L388.9 1704.6 L388.5 1703.6 L388.1 1702.6 L387.7 1701.6 L387.3 1700.6 L386.9 1699.6 L386.6 1698.6 L386.3 1697.6 L386.1 1696.5 L385.8 1695.5 L385.7 1694.5 L385.6 1693.5 L385.5 1692.5 L385.5 1691.5 L385.5 1690.5 L385.6 1689.5 L385.7 1688.5 L385.8 1687.5 L385.9 1686.5 L386.1 1685.5 L386.2 1684.5 L386.4 1683.5 L386.6 1682.5 L386.9 1681.5 L387.1 1680.5 L387.3 1679.5 L387.6 1678.5 L387.8 1677.5 L388.0 1676.5 L388.3 1675.5 L388.5 1674.4 L388.8 1673.4 L389.0 1672.4 L389.2 1671.4 L389.4 1670.4 L389.6 1669.4 L389.8 1668.4 L389.9 1667.4 L390.0 1666.4 L390.1 1665.4 L390.2 1664.4 L390.3 1663.4Z" fill="#d08c53" stroke="#050505" stroke-width="2.4" stroke-linejoin="round"/>
<path d="M421.5 1722.4 L421.6 1723.4 L421.7 1724.4 L421.8 1725.4 L421.9 1726.4 L422.1 1727.4 L422.2 1728.4 L422.4 1729.4 L422.6 1730.4 L422.8 1731.4 L423.0 1732.4 L423.3 1733.4 L423.5 1734.4 L423.7 1735.4 L423.9 1736.4 L424.1 1737.4 L424.3 1738.4 L424.5 1739.4 L424.7 1740.3 L424.9 1741.3 L425.0 1742.3 L425.1 1743.3 L425.2 1744.3 L425.3 1745.3 L425.3 1746.3 L425.3 1747.3 L425.2 1748.3 L425.1 1749.3 L424.9 1750.3 L424.6 1751.3 L424.3 1752.3 L424.0 1753.3 L423.6 1754.3 L423.2 1755.3 L422.7 1756.3 L422.3 1757.3 L421.8 1758.3 L421.3 1759.3 L420.8 1760.3 L420.3 1761.3 L419.8 1762.3 L419.3 1763.3 L418.8 1764.3 L418.4 1765.3 L418.0 1766.3 L417.6 1767.3 L417.2 1768.3 L416.9 1769.3 L416.7 1770.3 L416.5 1771.3 L416.3 1772.3 L416.2 1773.3 L416.2 1774.2 L416.2 1775.2 L416.2 1776.2 L416.2 1777.2 L416.2 1778.2 L416.2 1779.2 L416.2 1780.2 L416.2 1781.2 L416.2 1782.2 L416.2 1783.2 L416.2 1784.2 L416.2 1785.2 L416.2 1786.2 L416.2 1787.2 L416.2 1788.2 L416.2 1789.2 L416.2 1790.2 L416.2 1791.2 L440.4 1791.2 L440.4 1790.2 L440.4 1789.2 L440.4 1788.2 L440.4 1787.2 L440.4 1786.2 L440.4 1785.2 L440.4 1784.2 L440.4 1783.2 L440.4 1782.2 L440.4 1781.2 L440.4 1780.2 L440.4 1779.2 L440.4 1778.2 L440.4 1777.2 L440.4 1776.2 L440.4 1775.2 L440.4 1774.2 L440.4 1773.3 L440.3 1772.3 L440.1 1771.3 L439.9 1770.3 L439.7 1769.3 L439.4 1768.3 L439.0 1767.3 L438.6 1766.3 L438.2 1765.3 L437.8 1764.3 L437.3 1763.3 L436.8 1762.3 L436.3 1761.3 L435.8 1760.3 L435.3 1759.3 L434.8 1758.3 L434.3 1757.3 L433.9 1756.3 L433.4 1755.3 L433.0 1754.3 L432.6 1753.3 L432.3 1752.3 L432.0 1751.3 L431.7 1750.3 L431.5 1749.3 L431.4 1748.3 L431.3 1747.3 L431.3 1746.3 L431.3 1745.3 L431.4 1744.3 L431.5 1743.3 L431.6 1742.3 L431.7 1741.3 L431.9 1740.3 L432.1 1739.4 L432.3 1738.4 L432.5 1737.4 L432.7 1736.4 L432.9 1735.4 L433.1 1734.4 L433.3 1733.4 L433.6 1732.4 L433.8 1731.4 L434.0 1730.4 L434.2 1729.4 L434.4 1728.4 L434.5 1727.4 L434.7 1726.4 L434.8 1725.4 L434.9 1724.4 L435.0 1723.4 L435.1 1722.4Z" fill="#d08c53" stroke="#050505" stroke-width="2.4" stroke-linejoin="round"/>
<line x1="416.2" y1="1774.2" x2="440.4" y2="1774.2" stroke="#050505" stroke-width="2.2" stroke-opacity="0.85"/>
<path d="M488.5 1670.1 L488.5 1671.1 L488.5 1672.1 L488.5 1673.1 L488.5 1674.1 L488.5 1675.1 L488.5 1676.1 L488.5 1677.1 L488.5 1678.1 L488.5 1679.1 L488.5 1680.1 L488.5 1681.1 L488.5 1682.1 L488.5 1683.1 L488.5 1684.1 L488.5 1685.2 L488.5 1686.2 L488.5 1687.2 L488.5 1688.2 L488.5 1689.2 L488.5 1690.2 L488.5 1691.2 L488.5 1692.2 L488.6 1693.2 L488.7 1694.2 L488.8 1695.2 L489.0 1696.2 L489.1 1697.2 L489.4 1698.2 L489.6 1699.2 L489.8 1700.2 L490.1 1701.2 L490.4 1702.2 L490.7 1703.2 L491.0 1704.2 L491.4 1705.2 L491.7 1706.2 L492.1 1707.2 L492.4 1708.2 L492.8 1709.2 L493.1 1710.2 L493.5 1711.2 L493.9 1712.2 L494.2 1713.2 L494.6 1714.3 L494.9 1715.3 L495.2 1716.3 L495.5 1717.3 L495.8 1718.3 L496.1 1719.3 L496.4 1720.3 L496.6 1721.3 L496.8 1722.3 L497.0 1723.3 L497.2 1724.3 L497.4 1725.3 L497.5 1726.3 L497.5 1727.3 L497.6 1728.3 L497.6 1729.3 L497.6 1730.3 L497.5 1731.3 L497.5 1732.3 L497.4 1733.3 L497.3 1734.3 L497.1 1735.3 L497.0 1736.3 L496.8 1737.3 L496.7 1738.3 L496.5 1739.3 L496.3 1740.3 L496.1 1741.3 L495.9 1742.3 L495.7 1743.4 L495.5 1744.4 L495.3 1745.4 L495.1 1746.4 L494.9 1747.4 L494.7 1748.4 L494.5 1749.4 L494.4 1750.4 L494.2 1751.4 L494.1 1752.4 L493.9 1753.4 L493.8 1754.4 L493.7 1755.4 L493.7 1756.4 L493.6 1757.4 L507.0 1757.4 L506.9 1756.4 L506.9 1755.4 L506.8 1754.4 L506.7 1753.4 L506.5 1752.4 L506.4 1751.4 L506.2 1750.4 L506.1 1749.4 L505.9 1748.4 L505.7 1747.4 L505.5 1746.4 L505.3 1745.4 L505.1 1744.4 L504.9 1743.4 L504.7 1742.3 L504.5 1741.3 L504.3 1740.3 L504.1 1739.3 L503.9 1738.3 L503.8 1737.3 L503.6 1736.3 L503.5 1735.3 L503.3 1734.3 L503.2 1733.3 L503.1 1732.3 L503.1 1731.3 L503.0 1730.3 L503.0 1729.3 L503.0 1728.3 L503.1 1727.3 L503.1 1726.3 L503.2 1725.3 L503.4 1724.3 L503.6 1723.3 L503.8 1722.3 L504.0 1721.3 L504.2 1720.3 L504.5 1719.3 L504.8 1718.3 L505.1 1717.3 L505.4 1716.3 L505.7 1715.3 L506.0 1714.3 L506.4 1713.2 L506.7 1712.2 L507.1 1711.2 L507.5 1710.2 L507.8 1709.2 L508.2 1708.2 L508.5 1707.2 L508.9 1706.2 L509.2 1705.2 L509.6 1704.2 L509.9 1703.2 L510.2 1702.2 L510.5 1701.2 L510.8 1700.2 L511.0 1699.2 L511.2 1698.2 L511.5 1697.2 L511.6 1696.2 L511.8 1695.2 L511.9 1694.2 L512.0 1693.2 L512.1 1692.2 L512.1 1691.2 L512.1 1690.2 L512.1 1689.2 L512.1 1688.2 L512.1 1687.2 L512.1 1686.2 L512.1 1685.2 L512.1 1684.1 L512.1 1683.1 L512.1 1682.1 L512.1 1681.1 L512.1 1680.1 L512.1 1679.1 L512.1 1678.1 L512.1 1677.1 L512.1 1676.1 L512.1 1675.1 L512.1 1674.1 L512.1 1673.1 L512.1 1672.1 L512.1 1671.1 L512.1 1670.1Z" fill="#9e8dc7" stroke="#050505" stroke-width="2.4" stroke-linejoin="round"/>
<line x1="488.5" y1="1691.6" x2="512.1" y2="1691.6" stroke="#050505" stroke-width="2.2" stroke-opacity="0.32"/>
<path d="M532.1 1663.8 L532.1 1664.8 L532.2 1665.8 L532.2 1666.8 L532.2 1667.8 L532.3 1668.8 L532.3 1669.8 L532.4 1670.8 L532.5 1671.8 L532.5 1672.8 L532.6 1673.8 L532.7 1674.8 L532.8 1675.7 L532.8 1676.7 L532.9 1677.7 L532.9 1678.7 L533.0 1679.7 L533.1 1680.7 L533.1 1681.7 L533.1 1682.7 L533.2 1683.7 L533.2 1684.7 L533.2 1685.7 L533.2 1686.7 L533.2 1687.7 L533.2 1688.7 L533.1 1689.7 L533.1 1690.7 L533.0 1691.7 L533.0 1692.7 L532.9 1693.7 L532.8 1694.7 L532.8 1695.7 L532.7 1696.7 L532.6 1697.7 L532.6 1698.7 L532.5 1699.6 L532.4 1700.6 L532.3 1701.6 L532.3 1702.6 L532.2 1703.6 L532.2 1704.6 L532.1 1705.6 L532.1 1706.6 L532.0 1707.6 L532.0 1708.6 L532.0 1709.6 L532.0 1710.6 L532.0 1711.6 L532.0 1712.6 L532.1 1713.6 L532.1 1714.6 L532.2 1715.6 L532.2 1716.6 L532.3 1717.6 L532.3 1718.6 L532.4 1719.6 L532.5 1720.6 L532.6 1721.6 L532.6 1722.5 L532.7 1723.5 L532.8 1724.5 L532.9 1725.5 L532.9 1726.5 L533.0 1727.5 L533.0 1728.5 L533.1 1729.5 L533.1 1730.5 L533.2 1731.5 L533.2 1732.5 L533.2 1733.5 L533.2 1734.5 L533.2 1735.5 L533.2 1736.5 L533.1 1737.5 L533.1 1738.5 L533.0 1739.5 L533.0 1740.5 L532.9 1741.5 L532.9 1742.5 L532.8 1743.5 L532.7 1744.5 L532.7 1745.5 L532.6 1746.4 L532.5 1747.4 L532.4 1748.4 L532.4 1749.4 L532.3 1750.4 L532.2 1751.4 L532.2 1752.4 L532.1 1753.4 L532.1 1754.4 L532.1 1755.4 L532.0 1756.4 L532.0 1757.4 L555.6 1757.4 L555.6 1756.4 L555.5 1755.4 L555.5 1754.4 L555.5 1753.4 L555.4 1752.4 L555.4 1751.4 L555.3 1750.4 L555.2 1749.4 L555.2 1748.4 L555.1 1747.4 L555.0 1746.4 L554.9 1745.5 L554.9 1744.5 L554.8 1743.5 L554.7 1742.5 L554.7 1741.5 L554.6 1740.5 L554.6 1739.5 L554.5 1738.5 L554.5 1737.5 L554.4 1736.5 L554.4 1735.5 L554.4 1734.5 L554.4 1733.5 L554.4 1732.5 L554.4 1731.5 L554.5 1730.5 L554.5 1729.5 L554.6 1728.5 L554.6 1727.5 L554.7 1726.5 L554.7 1725.5 L554.8 1724.5 L554.9 1723.5 L555.0 1722.5 L555.0 1721.6 L555.1 1720.6 L555.2 1719.6 L555.3 1718.6 L555.3 1717.6 L555.4 1716.6 L555.4 1715.6 L555.5 1714.6 L555.5 1713.6 L555.6 1712.6 L555.6 1711.6 L555.6 1710.6 L555.6 1709.6 L555.6 1708.6 L555.6 1707.6 L555.5 1706.6 L555.5 1705.6 L555.4 1704.6 L555.4 1703.6 L555.3 1702.6 L555.3 1701.6 L555.2 1700.6 L555.1 1699.6 L555.0 1698.7 L555.0 1697.7 L554.9 1696.7 L554.8 1695.7 L554.8 1694.7 L554.7 1693.7 L554.6 1692.7 L554.6 1691.7 L554.5 1690.7 L554.5 1689.7 L554.4 1688.7 L554.4 1687.7 L554.4 1686.7 L554.4 1685.7 L554.4 1684.7 L554.4 1683.7 L554.5 1682.7 L554.5 1681.7 L554.5 1680.7 L554.6 1679.7 L554.7 1678.7 L554.7 1677.7 L554.8 1676.7 L554.8 1675.7 L554.9 1674.8 L555.0 1673.8 L555.1 1672.8 L555.1 1671.8 L555.2 1670.8 L555.3 1669.8 L555.3 1668.8 L555.4 1667.8 L555.4 1666.8 L555.4 1665.8 L555.5 1664.8 L555.5 1663.8Z" fill="#9e8dc7" stroke="#050505" stroke-width="2.4" stroke-linejoin="round"/>
<line x1="532.0" y1="1710.5" x2="555.6" y2="1710.5" stroke="#050505" stroke-width="2.2" stroke-opacity="0.85"/>
<path d="M578.5 1644.9 L578.6 1645.9 L578.7 1646.9 L578.8 1647.9 L578.9 1648.9 L579.1 1649.9 L579.2 1650.9 L579.4 1651.9 L579.6 1652.9 L579.8 1653.9 L580.0 1654.9 L580.2 1655.9 L580.4 1656.9 L580.5 1657.9 L580.7 1658.9 L580.9 1659.9 L581.0 1660.9 L581.1 1661.9 L581.2 1662.9 L581.3 1663.9 L581.3 1664.8 L581.3 1665.8 L581.2 1666.8 L581.1 1667.8 L581.0 1668.8 L580.8 1669.8 L580.6 1670.8 L580.3 1671.8 L580.0 1672.8 L579.7 1673.8 L579.4 1674.8 L579.1 1675.8 L578.7 1676.8 L578.4 1677.8 L578.0 1678.8 L577.7 1679.8 L577.3 1680.8 L577.0 1681.8 L576.6 1682.8 L576.3 1683.8 L576.0 1684.8 L575.8 1685.8 L575.5 1686.8 L575.3 1687.8 L575.2 1688.8 L575.0 1689.8 L574.9 1690.8 L574.9 1691.8 L574.9 1692.8 L574.9 1693.8 L574.9 1694.8 L574.9 1695.8 L574.9 1696.8 L574.9 1697.8 L574.9 1698.8 L574.9 1699.8 L574.9 1700.8 L574.9 1701.8 L574.9 1702.7 L574.9 1703.7 L574.9 1704.7 L574.9 1705.7 L574.9 1706.7 L574.9 1707.7 L574.9 1708.7 L574.9 1709.7 L574.9 1710.7 L574.9 1711.7 L574.9 1712.7 L574.9 1713.7 L574.9 1714.7 L574.9 1715.7 L574.9 1716.7 L574.9 1717.7 L574.9 1718.7 L574.9 1719.7 L574.9 1720.7 L599.5 1720.7 L599.5 1719.7 L599.5 1718.7 L599.5 1717.7 L599.5 1716.7 L599.5 1715.7 L599.5 1714.7 L599.5 1713.7 L599.5 1712.7 L599.5 1711.7 L599.5 1710.7 L599.5 1709.7 L599.5 1708.7 L599.5 1707.7 L599.5 1706.7 L599.5 1705.7 L599.5 1704.7 L599.5 1703.7 L599.5 1702.7 L599.5 1701.8 L599.5 1700.8 L599.5 1699.8 L599.5 1698.8 L599.5 1697.8 L599.5 1696.8 L599.5 1695.8 L599.5 1694.8 L599.5 1693.8 L599.5 1692.8 L599.5 1691.8 L599.5 1690.8 L599.4 1689.8 L599.2 1688.8 L599.1 1687.8 L598.9 1686.8 L598.6 1685.8 L598.4 1684.8 L598.1 1683.8 L597.8 1682.8 L597.4 1681.8 L597.1 1680.8 L596.7 1679.8 L596.4 1678.8 L596.0 1677.8 L595.7 1676.8 L595.3 1675.8 L595.0 1674.8 L594.7 1673.8 L594.4 1672.8 L594.1 1671.8 L593.8 1670.8 L593.6 1669.8 L593.4 1668.8 L593.3 1667.8 L593.2 1666.8 L593.1 1665.8 L593.1 1664.8 L593.1 1663.9 L593.2 1662.9 L593.3 1661.9 L593.4 1660.9 L593.5 1659.9 L593.7 1658.9 L593.9 1657.9 L594.0 1656.9 L594.2 1655.9 L594.4 1654.9 L594.6 1653.9 L594.8 1652.9 L595.0 1651.9 L595.2 1650.9 L595.3 1649.9 L595.5 1648.9 L595.6 1647.9 L595.7 1646.9 L595.8 1645.9 L595.9 1644.9Z" fill="#9e8dc7" stroke="#050505" stroke-width="2.4" stroke-linejoin="round"/>
<line x1="574.9" y1="1691.6" x2="599.5" y2="1691.6" stroke="#050505" stroke-width="2.2" stroke-opacity="0.32"/>
<path d="M618.7 1677.6 L618.7 1678.6 L618.7 1679.6 L618.7 1680.6 L618.7 1681.6 L618.7 1682.6 L618.7 1683.6 L618.7 1684.6 L618.7 1685.6 L618.7 1686.6 L618.7 1687.6 L618.7 1688.6 L618.7 1689.6 L618.7 1690.6 L618.7 1691.6 L618.7 1692.6 L618.7 1693.6 L618.7 1694.6 L618.7 1695.6 L618.7 1696.6 L618.7 1697.6 L618.7 1698.5 L618.7 1699.5 L618.7 1700.5 L618.7 1701.5 L618.7 1702.5 L618.7 1703.5 L618.7 1704.5 L618.7 1705.5 L618.7 1706.5 L618.7 1707.5 L618.7 1708.5 L618.7 1709.5 L618.7 1710.5 L618.8 1711.5 L618.8 1712.5 L619.0 1713.5 L619.1 1714.5 L619.3 1715.5 L619.6 1716.5 L619.8 1717.5 L620.1 1718.5 L620.4 1719.5 L620.7 1720.5 L621.0 1721.5 L621.3 1722.5 L621.6 1723.5 L621.9 1724.5 L622.2 1725.5 L622.5 1726.5 L622.8 1727.5 L623.1 1728.5 L623.3 1729.5 L623.6 1730.5 L623.8 1731.5 L624.0 1732.5 L624.1 1733.5 L624.2 1734.5 L624.3 1735.5 L624.3 1736.5 L624.3 1737.4 L624.2 1738.4 L624.1 1739.4 L624.0 1740.4 L623.9 1741.4 L623.7 1742.4 L623.5 1743.4 L623.3 1744.4 L623.1 1745.4 L622.9 1746.4 L622.7 1747.4 L622.4 1748.4 L622.2 1749.4 L622.0 1750.4 L621.8 1751.4 L621.6 1752.4 L621.5 1753.4 L621.3 1754.4 L621.2 1755.4 L621.1 1756.4 L621.0 1757.4 L640.0 1757.4 L639.9 1756.4 L639.8 1755.4 L639.7 1754.4 L639.5 1753.4 L639.4 1752.4 L639.2 1751.4 L639.0 1750.4 L638.8 1749.4 L638.6 1748.4 L638.3 1747.4 L638.1 1746.4 L637.9 1745.4 L637.7 1744.4 L637.5 1743.4 L637.3 1742.4 L637.1 1741.4 L637.0 1740.4 L636.9 1739.4 L636.8 1738.4 L636.7 1737.4 L636.7 1736.5 L636.7 1735.5 L636.8 1734.5 L636.9 1733.5 L637.0 1732.5 L637.2 1731.5 L637.4 1730.5 L637.7 1729.5 L637.9 1728.5 L638.2 1727.5 L638.5 1726.5 L638.8 1725.5 L639.1 1724.5 L639.4 1723.5 L639.7 1722.5 L640.0 1721.5 L640.3 1720.5 L640.6 1719.5 L640.9 1718.5 L641.2 1717.5 L641.4 1716.5 L641.7 1715.5 L641.9 1714.5 L642.0 1713.5 L642.2 1712.5 L642.2 1711.5 L642.3 1710.5 L642.3 1709.5 L642.3 1708.5 L642.3 1707.5 L642.3 1706.5 L642.3 1705.5 L642.3 1704.5 L642.3 1703.5 L642.3 1702.5 L642.3 1701.5 L642.3 1700.5 L642.3 1699.5 L642.3 1698.5 L642.3 1697.6 L642.3 1696.6 L642.3 1695.6 L642.3 1694.6 L642.3 1693.6 L642.3 1692.6 L642.3 1691.6 L642.3 1690.6 L642.3 1689.6 L642.3 1688.6 L642.3 1687.6 L642.3 1686.6 L642.3 1685.6 L642.3 1684.6 L642.3 1683.6 L642.3 1682.6 L642.3 1681.6 L642.3 1680.6 L642.3 1679.6 L642.3 1678.6 L642.3 1677.6Z" fill="#9e8dc7" stroke="#050505" stroke-width="2.4" stroke-linejoin="round"/>
<line x1="618.7" y1="1710.5" x2="642.3" y2="1710.5" stroke="#050505" stroke-width="2.2" stroke-opacity="0.85"/>
<path d="M695.6 1603.5 L695.7 1604.5 L695.9 1605.5 L696.2 1606.5 L696.6 1607.5 L696.9 1608.5 L697.3 1609.5 L697.6 1610.5 L698.0 1611.5 L698.3 1612.5 L698.5 1613.5 L698.7 1614.4 L698.9 1615.4 L698.9 1616.4 L698.8 1617.4 L698.6 1618.4 L698.2 1619.4 L697.8 1620.4 L697.2 1621.4 L696.6 1622.4 L696.0 1623.4 L695.3 1624.4 L694.6 1625.4 L693.9 1626.4 L693.2 1627.4 L692.6 1628.4 L692.0 1629.4 L691.5 1630.4 L691.1 1631.4 L690.8 1632.4 L690.6 1633.3 L690.6 1634.3 L690.6 1635.3 L690.6 1636.3 L690.6 1637.3 L690.6 1638.3 L690.6 1639.3 L690.6 1640.3 L690.6 1641.3 L690.6 1642.3 L690.6 1643.3 L714.4 1643.3 L714.4 1642.3 L714.4 1641.3 L714.4 1640.3 L714.4 1639.3 L714.4 1638.3 L714.4 1637.3 L714.4 1636.3 L714.4 1635.3 L714.4 1634.3 L714.4 1633.3 L714.2 1632.4 L713.9 1631.4 L713.5 1630.4 L713.0 1629.4 L712.4 1628.4 L711.8 1627.4 L711.1 1626.4 L710.4 1625.4 L709.7 1624.4 L709.0 1623.4 L708.4 1622.4 L707.8 1621.4 L707.2 1620.4 L706.8 1619.4 L706.4 1618.4 L706.2 1617.4 L706.1 1616.4 L706.1 1615.4 L706.3 1614.4 L706.5 1613.5 L706.7 1612.5 L707.0 1611.5 L707.4 1610.5 L707.7 1609.5 L708.1 1608.5 L708.4 1607.5 L708.8 1606.5 L709.1 1605.5 L709.3 1604.5 L709.4 1603.5Z" fill="#5c288e" stroke="#050505" stroke-width="2.4" stroke-linejoin="round"/>
<line x1="690.6" y1="1634.1" x2="714.4" y2="1634.1" stroke="#050505" stroke-width="2.2" stroke-opacity="0.85"/>
<path d="M734.3 1611.3 L734.3 1612.3 L734.4 1613.3 L734.4 1614.3 L734.4 1615.3 L734.5 1616.3 L734.5 1617.3 L734.6 1618.3 L734.6 1619.3 L734.7 1620.3 L734.8 1621.3 L734.8 1622.3 L734.9 1623.3 L735.0 1624.3 L735.1 1625.3 L735.1 1626.3 L735.2 1627.3 L735.2 1628.3 L735.3 1629.3 L735.4 1630.3 L735.4 1631.3 L735.4 1632.3 L735.5 1633.3 L735.5 1634.3 L735.5 1635.3 L735.5 1636.3 L735.5 1637.3 L735.5 1638.3 L735.4 1639.3 L735.4 1640.3 L735.4 1641.3 L735.3 1642.3 L735.3 1643.3 L735.2 1644.3 L735.1 1645.3 L735.1 1646.3 L735.0 1647.3 L734.9 1648.3 L734.9 1649.3 L734.8 1650.3 L734.7 1651.3 L734.7 1652.3 L734.6 1653.3 L734.6 1654.3 L734.5 1655.3 L734.4 1656.3 L734.4 1657.3 L734.4 1658.3 L734.3 1659.3 L734.3 1660.3 L734.3 1661.3 L734.3 1662.3 L734.3 1663.3 L734.3 1664.3 L734.4 1665.3 L734.4 1666.3 L734.4 1667.3 L734.5 1668.3 L734.6 1669.3 L734.6 1670.3 L734.7 1671.3 L734.8 1672.3 L734.8 1673.3 L734.9 1674.3 L735.0 1675.3 L735.1 1676.3 L735.1 1677.3 L735.2 1678.3 L735.3 1679.3 L735.3 1680.3 L735.4 1681.3 L735.4 1682.3 L735.5 1683.3 L735.5 1684.3 L735.5 1685.3 L735.5 1686.3 L735.5 1687.3 L735.5 1688.3 L735.4 1689.3 L735.4 1690.3 L735.4 1691.3 L735.3 1692.3 L735.2 1693.3 L735.2 1694.3 L735.1 1695.3 L735.0 1696.3 L735.0 1697.3 L734.9 1698.3 L734.8 1699.3 L734.8 1700.3 L734.7 1701.3 L734.6 1702.3 L734.5 1703.3 L734.5 1704.3 L734.4 1705.3 L734.4 1706.3 L734.4 1707.3 L734.3 1708.3 L734.3 1709.3 L758.3 1709.3 L758.3 1708.3 L758.2 1707.3 L758.2 1706.3 L758.2 1705.3 L758.1 1704.3 L758.1 1703.3 L758.0 1702.3 L757.9 1701.3 L757.8 1700.3 L757.8 1699.3 L757.7 1698.3 L757.6 1697.3 L757.6 1696.3 L757.5 1695.3 L757.4 1694.3 L757.4 1693.3 L757.3 1692.3 L757.2 1691.3 L757.2 1690.3 L757.2 1689.3 L757.1 1688.3 L757.1 1687.3 L757.1 1686.3 L757.1 1685.3 L757.1 1684.3 L757.1 1683.3 L757.2 1682.3 L757.2 1681.3 L757.3 1680.3 L757.3 1679.3 L757.4 1678.3 L757.5 1677.3 L757.5 1676.3 L757.6 1675.3 L757.7 1674.3 L757.8 1673.3 L757.8 1672.3 L757.9 1671.3 L758.0 1670.3 L758.0 1669.3 L758.1 1668.3 L758.2 1667.3 L758.2 1666.3 L758.2 1665.3 L758.3 1664.3 L758.3 1663.3 L758.3 1662.3 L758.3 1661.3 L758.3 1660.3 L758.3 1659.3 L758.2 1658.3 L758.2 1657.3 L758.2 1656.3 L758.1 1655.3 L758.0 1654.3 L758.0 1653.3 L757.9 1652.3 L757.9 1651.3 L757.8 1650.3 L757.7 1649.3 L757.7 1648.3 L757.6 1647.3 L757.5 1646.3 L757.5 1645.3 L757.4 1644.3 L757.3 1643.3 L757.3 1642.3 L757.2 1641.3 L757.2 1640.3 L757.2 1639.3 L757.1 1638.3 L757.1 1637.3 L757.1 1636.3 L757.1 1635.3 L757.1 1634.3 L757.1 1633.3 L757.2 1632.3 L757.2 1631.3 L757.2 1630.3 L757.3 1629.3 L757.4 1628.3 L757.4 1627.3 L757.5 1626.3 L757.5 1625.3 L757.6 1624.3 L757.7 1623.3 L757.8 1622.3 L757.8 1621.3 L757.9 1620.3 L758.0 1619.3 L758.0 1618.3 L758.1 1617.3 L758.1 1616.3 L758.2 1615.3 L758.2 1614.3 L758.2 1613.3 L758.3 1612.3 L758.3 1611.3Z" fill="#5c288e" stroke="#050505" stroke-width="2.4" stroke-linejoin="round"/>
<line x1="734.3" y1="1662.0" x2="758.3" y2="1662.0" stroke="#050505" stroke-width="2.2" stroke-opacity="0.85"/>
<path d="M781.8 1685.0 L782.1 1686.0 L782.5 1687.0 L783.0 1688.0 L783.4 1689.0 L783.8 1690.1 L784.1 1691.1 L784.2 1692.1 L783.9 1693.1 L783.1 1694.1 L782.1 1695.1 L780.9 1696.1 L779.7 1697.2 L778.7 1698.2 L778.1 1699.2 L777.9 1700.2 L777.9 1701.2 L777.9 1702.2 L777.9 1703.2 L777.9 1704.2 L777.9 1705.2 L777.9 1706.3 L777.9 1707.3 L777.9 1708.3 L777.9 1709.3 L802.1 1709.3 L802.1 1708.3 L802.1 1707.3 L802.1 1706.3 L802.1 1705.2 L802.1 1704.2 L802.1 1703.2 L802.1 1702.2 L802.1 1701.2 L802.1 1700.2 L801.9 1699.2 L801.3 1698.2 L800.3 1697.2 L799.1 1696.1 L797.9 1695.1 L796.9 1694.1 L796.1 1693.1 L795.8 1692.1 L795.9 1691.1 L796.2 1690.1 L796.6 1689.0 L797.0 1688.0 L797.5 1687.0 L797.9 1686.0 L798.2 1685.0Z" fill="#5c288e" stroke="#050505" stroke-width="2.4" stroke-linejoin="round"/>
<line x1="777.9" y1="1700.1" x2="802.1" y2="1700.1" stroke="#050505" stroke-width="2.2" stroke-opacity="0.85"/>
<path d="M821.2 1711.7 L821.2 1712.7 L821.2 1713.7 L821.2 1714.7 L821.2 1715.7 L821.2 1716.7 L821.2 1717.7 L821.2 1718.7 L821.2 1719.7 L821.2 1720.7 L821.2 1721.7 L821.4 1722.7 L821.7 1723.6 L822.0 1724.6 L822.5 1725.6 L823.0 1726.6 L823.6 1727.6 L824.3 1728.6 L824.9 1729.6 L825.6 1730.6 L826.3 1731.6 L827.0 1732.6 L827.7 1733.6 L828.3 1734.6 L828.9 1735.6 L829.4 1736.6 L829.8 1737.6 L830.2 1738.6 L830.4 1739.6 L830.5 1740.6 L830.5 1741.6 L830.4 1742.6 L830.2 1743.6 L830.0 1744.6 L829.7 1745.6 L829.4 1746.5 L829.1 1747.5 L828.7 1748.5 L828.4 1749.5 L828.0 1750.5 L827.6 1751.5 L827.3 1752.5 L826.9 1753.5 L826.6 1754.5 L826.4 1755.5 L826.2 1756.5 L826.1 1757.5 L840.3 1757.5 L840.2 1756.5 L840.0 1755.5 L839.8 1754.5 L839.5 1753.5 L839.1 1752.5 L838.8 1751.5 L838.4 1750.5 L838.0 1749.5 L837.7 1748.5 L837.3 1747.5 L837.0 1746.5 L836.7 1745.6 L836.4 1744.6 L836.2 1743.6 L836.0 1742.6 L835.9 1741.6 L835.9 1740.6 L836.0 1739.6 L836.2 1738.6 L836.6 1737.6 L837.0 1736.6 L837.5 1735.6 L838.1 1734.6 L838.7 1733.6 L839.4 1732.6 L840.1 1731.6 L840.8 1730.6 L841.5 1729.6 L842.1 1728.6 L842.8 1727.6 L843.4 1726.6 L843.9 1725.6 L844.4 1724.6 L844.7 1723.6 L845.0 1722.7 L845.2 1721.7 L845.2 1720.7 L845.2 1719.7 L845.2 1718.7 L845.2 1717.7 L845.2 1716.7 L845.2 1715.7 L845.2 1714.7 L845.2 1713.7 L845.2 1712.7 L845.2 1711.7Z" fill="#5c288e" stroke="#050505" stroke-width="2.4" stroke-linejoin="round"/>
<line x1="821.2" y1="1721.3" x2="845.2" y2="1721.3" stroke="#050505" stroke-width="2.2" stroke-opacity="0.85"/>
<path d="M893.4 1521.2 L893.4 1522.2 L893.5 1523.2 L893.5 1524.2 L893.5 1525.2 L893.6 1526.2 L893.6 1527.2 L893.7 1528.2 L893.8 1529.2 L893.8 1530.2 L893.9 1531.2 L893.9 1532.2 L894.0 1533.2 L894.0 1534.2 L894.1 1535.2 L894.1 1536.2 L894.1 1537.2 L894.1 1538.2 L894.1 1539.1 L894.1 1540.1 L894.0 1541.1 L894.0 1542.1 L893.9 1543.1 L893.9 1544.1 L893.8 1545.1 L893.7 1546.1 L893.6 1547.1 L893.6 1548.1 L893.5 1549.1 L893.4 1550.1 L893.3 1551.1 L893.3 1552.1 L893.2 1553.1 L893.2 1554.1 L893.1 1555.1 L893.1 1556.1 L893.1 1557.1 L893.1 1558.1 L893.1 1559.1 L893.2 1560.1 L893.2 1561.1 L893.3 1562.1 L893.4 1563.1 L893.5 1564.1 L893.6 1565.1 L893.7 1566.1 L893.7 1567.1 L893.8 1568.1 L893.9 1569.1 L894.0 1570.1 L894.0 1571.1 L894.1 1572.1 L894.1 1573.0 L894.1 1574.0 L894.1 1575.0 L894.1 1576.0 L894.0 1577.0 L894.0 1578.0 L893.9 1579.0 L893.8 1580.0 L893.7 1581.0 L893.7 1582.0 L893.6 1583.0 L893.5 1584.0 L893.4 1585.0 L893.3 1586.0 L893.2 1587.0 L893.2 1588.0 L893.1 1589.0 L893.1 1590.0 L916.7 1590.0 L916.7 1589.0 L916.6 1588.0 L916.6 1587.0 L916.5 1586.0 L916.4 1585.0 L916.3 1584.0 L916.2 1583.0 L916.1 1582.0 L916.1 1581.0 L916.0 1580.0 L915.9 1579.0 L915.8 1578.0 L915.8 1577.0 L915.7 1576.0 L915.7 1575.0 L915.7 1574.0 L915.7 1573.0 L915.7 1572.1 L915.8 1571.1 L915.8 1570.1 L915.9 1569.1 L916.0 1568.1 L916.1 1567.1 L916.1 1566.1 L916.2 1565.1 L916.3 1564.1 L916.4 1563.1 L916.5 1562.1 L916.6 1561.1 L916.6 1560.1 L916.7 1559.1 L916.7 1558.1 L916.7 1557.1 L916.7 1556.1 L916.7 1555.1 L916.6 1554.1 L916.6 1553.1 L916.5 1552.1 L916.5 1551.1 L916.4 1550.1 L916.3 1549.1 L916.2 1548.1 L916.2 1547.1 L916.1 1546.1 L916.0 1545.1 L915.9 1544.1 L915.9 1543.1 L915.8 1542.1 L915.8 1541.1 L915.7 1540.1 L915.7 1539.1 L915.7 1538.2 L915.7 1537.2 L915.7 1536.2 L915.7 1535.2 L915.8 1534.2 L915.8 1533.2 L915.9 1532.2 L915.9 1531.2 L916.0 1530.2 L916.0 1529.2 L916.1 1528.2 L916.2 1527.2 L916.2 1526.2 L916.3 1525.2 L916.3 1524.2 L916.3 1523.2 L916.4 1522.2 L916.4 1521.2Z" fill="#7abedb" stroke="#050505" stroke-width="2.4" stroke-linejoin="round"/>
<line x1="893.1" y1="1557.1" x2="916.7" y2="1557.1" stroke="#050505" stroke-width="2.2" stroke-opacity="0.32"/>
<path d="M941.5 1538.7 L941.6 1539.7 L941.7 1540.7 L941.8 1541.7 L941.9 1542.7 L942.1 1543.7 L942.2 1544.7 L942.4 1545.7 L942.7 1546.7 L942.9 1547.7 L943.1 1548.7 L943.3 1549.7 L943.6 1550.7 L943.8 1551.7 L944.1 1552.7 L944.3 1553.7 L944.6 1554.7 L944.8 1555.7 L945.0 1556.7 L945.2 1557.7 L945.4 1558.7 L945.6 1559.7 L945.8 1560.7 L945.9 1561.7 L946.0 1562.7 L946.1 1563.7 L946.2 1564.7 L946.2 1565.7 L946.2 1566.7 L946.1 1567.7 L946.0 1568.7 L945.7 1569.7 L945.5 1570.7 L945.2 1571.7 L944.8 1572.7 L944.4 1573.7 L944.0 1574.7 L943.6 1575.7 L943.1 1576.7 L942.6 1577.7 L942.1 1578.7 L941.6 1579.7 L941.1 1580.7 L940.6 1581.7 L940.1 1582.7 L939.6 1583.7 L939.1 1584.7 L938.7 1585.7 L938.3 1586.7 L937.9 1587.7 L937.6 1588.7 L937.3 1589.7 L937.1 1590.7 L936.9 1591.7 L936.8 1592.7 L936.7 1593.7 L936.7 1594.7 L936.7 1595.7 L936.7 1596.7 L936.7 1597.7 L936.7 1598.7 L936.7 1599.7 L936.7 1600.7 L936.7 1601.7 L936.7 1602.7 L936.7 1603.7 L936.7 1604.7 L936.7 1605.7 L936.7 1606.7 L936.7 1607.7 L936.7 1608.7 L936.7 1609.7 L936.7 1610.7 L936.7 1611.7 L936.7 1612.7 L936.7 1613.7 L960.7 1613.7 L960.7 1612.7 L960.7 1611.7 L960.7 1610.7 L960.7 1609.7 L960.7 1608.7 L960.7 1607.7 L960.7 1606.7 L960.7 1605.7 L960.7 1604.7 L960.7 1603.7 L960.7 1602.7 L960.7 1601.7 L960.7 1600.7 L960.7 1599.7 L960.7 1598.7 L960.7 1597.7 L960.7 1596.7 L960.7 1595.7 L960.7 1594.7 L960.7 1593.7 L960.6 1592.7 L960.5 1591.7 L960.3 1590.7 L960.1 1589.7 L959.8 1588.7 L959.5 1587.7 L959.1 1586.7 L958.7 1585.7 L958.3 1584.7 L957.8 1583.7 L957.3 1582.7 L956.8 1581.7 L956.3 1580.7 L955.8 1579.7 L955.3 1578.7 L954.8 1577.7 L954.3 1576.7 L953.8 1575.7 L953.4 1574.7 L953.0 1573.7 L952.6 1572.7 L952.2 1571.7 L951.9 1570.7 L951.7 1569.7 L951.4 1568.7 L951.3 1567.7 L951.2 1566.7 L951.2 1565.7 L951.2 1564.7 L951.3 1563.7 L951.4 1562.7 L951.5 1561.7 L951.6 1560.7 L951.8 1559.7 L952.0 1558.7 L952.2 1557.7 L952.4 1556.7 L952.6 1555.7 L952.8 1554.7 L953.1 1553.7 L953.3 1552.7 L953.6 1551.7 L953.8 1550.7 L954.1 1549.7 L954.3 1548.7 L954.5 1547.7 L954.7 1546.7 L955.0 1545.7 L955.2 1544.7 L955.3 1543.7 L955.5 1542.7 L955.6 1541.7 L955.7 1540.7 L955.8 1539.7 L955.9 1538.7Z" fill="#7abedb" stroke="#050505" stroke-width="2.4" stroke-linejoin="round"/>
<line x1="936.7" y1="1593.9" x2="960.7" y2="1593.9" stroke="#050505" stroke-width="2.2" stroke-opacity="0.85"/>
<path d="M980.0 1588.7 L980.0 1589.7 L980.0 1590.7 L980.0 1591.7 L980.2 1592.7 L980.5 1593.8 L980.8 1594.8 L981.3 1595.8 L981.8 1596.8 L982.4 1597.8 L983.1 1598.8 L983.8 1599.8 L984.5 1600.8 L985.2 1601.8 L986.0 1602.8 L986.7 1603.9 L987.4 1604.9 L988.1 1605.9 L988.8 1606.9 L989.3 1607.9 L989.9 1608.9 L990.3 1609.9 L990.6 1610.9 L990.9 1611.9 L991.0 1613.0 L991.0 1614.0 L990.8 1615.0 L990.6 1616.0 L990.2 1617.0 L989.7 1618.0 L989.2 1619.0 L988.7 1620.0 L988.1 1621.0 L987.6 1622.0 L987.1 1623.1 L986.6 1624.1 L986.2 1625.1 L985.8 1626.1 L985.6 1627.1 L998.4 1627.1 L998.2 1626.1 L997.8 1625.1 L997.4 1624.1 L996.9 1623.1 L996.4 1622.0 L995.9 1621.0 L995.3 1620.0 L994.8 1619.0 L994.3 1618.0 L993.8 1617.0 L993.4 1616.0 L993.2 1615.0 L993.0 1614.0 L993.0 1613.0 L993.1 1611.9 L993.4 1610.9 L993.7 1609.9 L994.1 1608.9 L994.7 1607.9 L995.2 1606.9 L995.9 1605.9 L996.6 1604.9 L997.3 1603.9 L998.0 1602.8 L998.8 1601.8 L999.5 1600.8 L1000.2 1599.8 L1000.9 1598.8 L1001.6 1597.8 L1002.2 1596.8 L1002.7 1595.8 L1003.2 1594.8 L1003.5 1593.8 L1003.8 1592.7 L1004.0 1591.7 L1004.0 1590.7 L1004.0 1589.7 L1004.0 1588.7Z" fill="#7abedb" stroke="#050505" stroke-width="2.4" stroke-linejoin="round"/>
<line x1="980.0" y1="1590.2" x2="1004.0" y2="1590.2" stroke="#050505" stroke-width="2.2" stroke-opacity="0.85"/>
<path d="M1023.0 1525.4 L1023.0 1526.4 L1023.0 1527.4 L1023.0 1528.4 L1023.0 1529.4 L1023.0 1530.4 L1023.0 1531.4 L1023.0 1532.4 L1023.3 1533.3 L1023.8 1534.3 L1024.5 1535.3 L1025.4 1536.3 L1026.5 1537.3 L1027.5 1538.3 L1028.6 1539.3 L1029.7 1540.3 L1030.7 1541.3 L1031.5 1542.3 L1032.1 1543.3 L1032.6 1544.3 L1032.7 1545.3 L1032.6 1546.3 L1032.4 1547.3 L1032.0 1548.3 L1031.6 1549.2 L1031.1 1550.2 L1030.6 1551.2 L1030.1 1552.2 L1029.6 1553.2 L1029.1 1554.2 L1028.8 1555.2 L1028.5 1556.2 L1042.3 1556.2 L1042.0 1555.2 L1041.7 1554.2 L1041.2 1553.2 L1040.7 1552.2 L1040.2 1551.2 L1039.7 1550.2 L1039.2 1549.2 L1038.8 1548.3 L1038.4 1547.3 L1038.2 1546.3 L1038.1 1545.3 L1038.2 1544.3 L1038.7 1543.3 L1039.3 1542.3 L1040.1 1541.3 L1041.1 1540.3 L1042.2 1539.3 L1043.3 1538.3 L1044.3 1537.3 L1045.4 1536.3 L1046.3 1535.3 L1047.0 1534.3 L1047.5 1533.3 L1047.8 1532.4 L1047.8 1531.4 L1047.8 1530.4 L1047.8 1529.4 L1047.8 1528.4 L1047.8 1527.4 L1047.8 1526.4 L1047.8 1525.4Z" fill="#7abedb" stroke="#050505" stroke-width="2.4" stroke-linejoin="round"/>
<line x1="1023.0" y1="1532.2" x2="1047.8" y2="1532.2" stroke="#050505" stroke-width="2.2" stroke-opacity="0.32"/>
<path d="M1095.1 1560.5 L1095.1 1561.5 L1095.2 1562.5 L1095.8 1563.5 L1096.8 1564.6 L1098.2 1565.6 L1099.7 1566.6 L1101.3 1567.6 L1102.8 1568.6 L1104.1 1569.6 L1105.0 1570.7 L1105.5 1571.7 L1105.4 1572.7 L1105.1 1573.7 L1104.6 1574.7 L1104.0 1575.7 L1103.2 1576.7 L1102.5 1577.8 L1101.9 1578.8 L1101.3 1579.8 L1100.9 1580.8 L1113.9 1580.8 L1113.5 1579.8 L1112.9 1578.8 L1112.3 1577.8 L1111.6 1576.7 L1110.8 1575.7 L1110.2 1574.7 L1109.7 1573.7 L1109.4 1572.7 L1109.3 1571.7 L1109.8 1570.7 L1110.7 1569.6 L1112.0 1568.6 L1113.5 1567.6 L1115.1 1566.6 L1116.6 1565.6 L1118.0 1564.6 L1119.0 1563.5 L1119.6 1562.5 L1119.7 1561.5 L1119.7 1560.5Z" fill="#0b63a3" stroke="#050505" stroke-width="2.4" stroke-linejoin="round"/>
<line x1="1095.1" y1="1561.3" x2="1119.7" y2="1561.3" stroke="#050505" stroke-width="2.2" stroke-opacity="0.85"/>
<path d="M1143.6 1503.1 L1143.7 1504.1 L1144.0 1505.1 L1144.3 1506.1 L1144.6 1507.1 L1145.0 1508.1 L1145.4 1509.1 L1145.8 1510.1 L1146.2 1511.0 L1146.6 1512.0 L1146.9 1513.0 L1147.2 1514.0 L1147.4 1515.0 L1147.5 1516.0 L1147.6 1517.0 L1147.5 1518.0 L1147.4 1519.0 L1147.1 1520.0 L1146.8 1521.0 L1146.4 1522.0 L1145.9 1523.0 L1145.4 1524.0 L1144.8 1525.0 L1144.2 1526.0 L1143.6 1526.9 L1143.0 1527.9 L1142.4 1528.9 L1141.8 1529.9 L1141.2 1530.9 L1140.7 1531.9 L1140.2 1532.9 L1139.8 1533.9 L1139.4 1534.9 L1139.1 1535.9 L1139.0 1536.9 L1138.9 1537.9 L1138.9 1538.9 L1138.9 1539.9 L1138.9 1540.9 L1138.9 1541.8 L1138.9 1542.8 L1138.9 1543.8 L1138.9 1544.8 L1138.9 1545.8 L1138.9 1546.8 L1138.9 1547.8 L1138.9 1548.8 L1162.5 1548.8 L1162.5 1547.8 L1162.5 1546.8 L1162.5 1545.8 L1162.5 1544.8 L1162.5 1543.8 L1162.5 1542.8 L1162.5 1541.8 L1162.5 1540.9 L1162.5 1539.9 L1162.5 1538.9 L1162.5 1537.9 L1162.4 1536.9 L1162.3 1535.9 L1162.0 1534.9 L1161.6 1533.9 L1161.2 1532.9 L1160.7 1531.9 L1160.2 1530.9 L1159.6 1529.9 L1159.0 1528.9 L1158.4 1527.9 L1157.8 1526.9 L1157.2 1526.0 L1156.6 1525.0 L1156.0 1524.0 L1155.5 1523.0 L1155.0 1522.0 L1154.6 1521.0 L1154.3 1520.0 L1154.0 1519.0 L1153.9 1518.0 L1153.8 1517.0 L1153.9 1516.0 L1154.0 1515.0 L1154.2 1514.0 L1154.5 1513.0 L1154.8 1512.0 L1155.2 1511.0 L1155.6 1510.1 L1156.0 1509.1 L1156.4 1508.1 L1156.8 1507.1 L1157.1 1506.1 L1157.4 1505.1 L1157.7 1504.1 L1157.8 1503.1Z" fill="#0b63a3" stroke="#050505" stroke-width="2.4" stroke-linejoin="round"/>
<line x1="1138.9" y1="1537.8" x2="1162.5" y2="1537.8" stroke="#050505" stroke-width="2.2" stroke-opacity="0.85"/>
<path d="M1182.8 1651.6 L1182.8 1652.6 L1182.8 1653.6 L1182.8 1654.6 L1182.8 1655.6 L1182.8 1656.6 L1182.8 1657.6 L1182.8 1658.6 L1182.8 1659.6 L1182.8 1660.6 L1182.8 1661.5 L1182.8 1662.5 L1182.9 1663.5 L1183.1 1664.5 L1183.3 1665.5 L1183.6 1666.5 L1183.9 1667.5 L1184.2 1668.5 L1184.6 1669.5 L1185.0 1670.5 L1185.4 1671.5 L1185.9 1672.5 L1186.3 1673.5 L1186.8 1674.5 L1187.3 1675.5 L1187.8 1676.5 L1188.2 1677.5 L1188.7 1678.5 L1189.2 1679.5 L1189.6 1680.5 L1190.0 1681.4 L1190.4 1682.4 L1190.8 1683.4 L1191.1 1684.4 L1191.3 1685.4 L1191.6 1686.4 L1191.7 1687.4 L1191.8 1688.4 L1191.9 1689.4 L1191.9 1690.4 L1191.8 1691.4 L1191.7 1692.4 L1191.6 1693.4 L1191.4 1694.4 L1191.2 1695.4 L1190.9 1696.4 L1190.7 1697.4 L1190.4 1698.4 L1190.1 1699.4 L1189.8 1700.3 L1189.5 1701.3 L1189.3 1702.3 L1189.0 1703.3 L1188.7 1704.3 L1188.5 1705.3 L1188.3 1706.3 L1188.2 1707.3 L1188.0 1708.3 L1187.9 1709.3 L1201.3 1709.3 L1201.2 1708.3 L1201.0 1707.3 L1200.9 1706.3 L1200.7 1705.3 L1200.5 1704.3 L1200.2 1703.3 L1199.9 1702.3 L1199.7 1701.3 L1199.4 1700.3 L1199.1 1699.4 L1198.8 1698.4 L1198.5 1697.4 L1198.3 1696.4 L1198.0 1695.4 L1197.8 1694.4 L1197.6 1693.4 L1197.5 1692.4 L1197.4 1691.4 L1197.3 1690.4 L1197.3 1689.4 L1197.4 1688.4 L1197.5 1687.4 L1197.6 1686.4 L1197.9 1685.4 L1198.1 1684.4 L1198.4 1683.4 L1198.8 1682.4 L1199.2 1681.4 L1199.6 1680.5 L1200.0 1679.5 L1200.5 1678.5 L1201.0 1677.5 L1201.4 1676.5 L1201.9 1675.5 L1202.4 1674.5 L1202.9 1673.5 L1203.3 1672.5 L1203.8 1671.5 L1204.2 1670.5 L1204.6 1669.5 L1205.0 1668.5 L1205.3 1667.5 L1205.6 1666.5 L1205.9 1665.5 L1206.1 1664.5 L1206.3 1663.5 L1206.4 1662.5 L1206.4 1661.5 L1206.4 1660.6 L1206.4 1659.6 L1206.4 1658.6 L1206.4 1657.6 L1206.4 1656.6 L1206.4 1655.6 L1206.4 1654.6 L1206.4 1653.6 L1206.4 1652.6 L1206.4 1651.6Z" fill="#0b63a3" stroke="#050505" stroke-width="2.4" stroke-linejoin="round"/>
<line x1="1182.8" y1="1661.5" x2="1206.4" y2="1661.5" stroke="#050505" stroke-width="2.2" stroke-opacity="0.85"/>
<path d="M1226.3 1606.9 L1226.3 1607.9 L1226.3 1608.9 L1226.3 1609.9 L1226.3 1610.9 L1226.3 1611.9 L1226.3 1612.9 L1226.3 1613.9 L1226.3 1614.9 L1226.3 1615.9 L1226.3 1616.9 L1226.3 1617.9 L1226.3 1618.9 L1226.3 1619.9 L1226.3 1620.9 L1226.3 1621.9 L1226.3 1622.9 L1226.3 1623.9 L1226.3 1624.9 L1226.3 1625.9 L1226.3 1626.9 L1226.3 1627.9 L1226.3 1628.9 L1226.3 1629.9 L1226.3 1630.9 L1226.3 1631.9 L1226.3 1632.9 L1226.3 1633.9 L1226.3 1634.9 L1226.3 1635.9 L1226.3 1636.9 L1226.3 1637.9 L1226.3 1638.9 L1226.3 1639.9 L1226.4 1640.9 L1226.5 1642.0 L1226.5 1643.0 L1226.6 1644.0 L1226.7 1645.0 L1226.8 1646.0 L1226.9 1647.0 L1227.0 1648.0 L1227.2 1649.0 L1227.3 1650.0 L1227.4 1651.0 L1227.5 1652.0 L1227.6 1653.0 L1227.6 1654.0 L1227.7 1655.0 L1227.8 1656.0 L1227.8 1657.0 L1227.8 1658.0 L1227.8 1659.0 L1227.8 1660.0 L1227.7 1661.0 L1227.7 1662.0 L1227.6 1663.0 L1227.5 1664.0 L1227.4 1665.0 L1227.3 1666.0 L1227.3 1667.0 L1227.2 1668.0 L1227.1 1669.0 L1227.0 1670.0 L1226.9 1671.0 L1226.8 1672.0 L1226.7 1673.0 L1226.7 1674.0 L1226.6 1675.0 L1226.6 1676.0 L1249.2 1676.0 L1249.2 1675.0 L1249.1 1674.0 L1249.1 1673.0 L1249.0 1672.0 L1248.9 1671.0 L1248.8 1670.0 L1248.7 1669.0 L1248.6 1668.0 L1248.5 1667.0 L1248.5 1666.0 L1248.4 1665.0 L1248.3 1664.0 L1248.2 1663.0 L1248.1 1662.0 L1248.1 1661.0 L1248.0 1660.0 L1248.0 1659.0 L1248.0 1658.0 L1248.0 1657.0 L1248.0 1656.0 L1248.1 1655.0 L1248.2 1654.0 L1248.2 1653.0 L1248.3 1652.0 L1248.4 1651.0 L1248.5 1650.0 L1248.6 1649.0 L1248.8 1648.0 L1248.9 1647.0 L1249.0 1646.0 L1249.1 1645.0 L1249.2 1644.0 L1249.3 1643.0 L1249.3 1642.0 L1249.4 1640.9 L1249.5 1639.9 L1249.5 1638.9 L1249.5 1637.9 L1249.5 1636.9 L1249.5 1635.9 L1249.5 1634.9 L1249.5 1633.9 L1249.5 1632.9 L1249.5 1631.9 L1249.5 1630.9 L1249.5 1629.9 L1249.5 1628.9 L1249.5 1627.9 L1249.5 1626.9 L1249.5 1625.9 L1249.5 1624.9 L1249.5 1623.9 L1249.5 1622.9 L1249.5 1621.9 L1249.5 1620.9 L1249.5 1619.9 L1249.5 1618.9 L1249.5 1617.9 L1249.5 1616.9 L1249.5 1615.9 L1249.5 1614.9 L1249.5 1613.9 L1249.5 1612.9 L1249.5 1611.9 L1249.5 1610.9 L1249.5 1609.9 L1249.5 1608.9 L1249.5 1607.9 L1249.5 1606.9Z" fill="#0b63a3" stroke="#050505" stroke-width="2.4" stroke-linejoin="round"/>
<line x1="1226.3" y1="1638.6" x2="1249.5" y2="1638.6" stroke="#050505" stroke-width="2.2" stroke-opacity="0.32"/>
<path d="M1299.0 1619.4 L1299.1 1620.4 L1299.2 1621.4 L1299.4 1622.4 L1299.5 1623.4 L1299.7 1624.4 L1299.9 1625.4 L1300.1 1626.4 L1300.3 1627.4 L1300.6 1628.4 L1300.8 1629.4 L1301.0 1630.4 L1301.2 1631.4 L1301.3 1632.4 L1301.5 1633.4 L1301.6 1634.4 L1301.7 1635.4 L1301.7 1636.4 L1301.7 1637.4 L1301.6 1638.4 L1301.5 1639.4 L1301.3 1640.4 L1301.1 1641.4 L1300.9 1642.4 L1300.6 1643.4 L1300.3 1644.4 L1300.0 1645.4 L1299.7 1646.4 L1299.4 1647.4 L1299.1 1648.4 L1298.8 1649.4 L1298.5 1650.4 L1298.3 1651.3 L1298.1 1652.3 L1297.9 1653.3 L1297.8 1654.3 L1297.7 1655.3 L1297.7 1656.3 L1297.7 1657.3 L1297.7 1658.3 L1297.7 1659.3 L1297.7 1660.3 L1297.7 1661.3 L1297.7 1662.3 L1297.7 1663.3 L1297.7 1664.3 L1297.7 1665.3 L1297.7 1666.3 L1297.7 1667.3 L1297.7 1668.3 L1297.7 1669.3 L1297.7 1670.3 L1297.7 1671.3 L1297.7 1672.3 L1297.7 1673.3 L1297.7 1674.3 L1297.7 1675.3 L1297.7 1676.3 L1297.7 1677.3 L1297.7 1678.3 L1297.7 1679.3 L1297.7 1680.3 L1297.7 1681.3 L1297.7 1682.3 L1297.7 1683.3 L1321.3 1683.3 L1321.3 1682.3 L1321.3 1681.3 L1321.3 1680.3 L1321.3 1679.3 L1321.3 1678.3 L1321.3 1677.3 L1321.3 1676.3 L1321.3 1675.3 L1321.3 1674.3 L1321.3 1673.3 L1321.3 1672.3 L1321.3 1671.3 L1321.3 1670.3 L1321.3 1669.3 L1321.3 1668.3 L1321.3 1667.3 L1321.3 1666.3 L1321.3 1665.3 L1321.3 1664.3 L1321.3 1663.3 L1321.3 1662.3 L1321.3 1661.3 L1321.3 1660.3 L1321.3 1659.3 L1321.3 1658.3 L1321.3 1657.3 L1321.3 1656.3 L1321.3 1655.3 L1321.2 1654.3 L1321.1 1653.3 L1320.9 1652.3 L1320.7 1651.3 L1320.5 1650.4 L1320.2 1649.4 L1319.9 1648.4 L1319.6 1647.4 L1319.3 1646.4 L1319.0 1645.4 L1318.7 1644.4 L1318.4 1643.4 L1318.1 1642.4 L1317.9 1641.4 L1317.7 1640.4 L1317.5 1639.4 L1317.4 1638.4 L1317.3 1637.4 L1317.3 1636.4 L1317.3 1635.4 L1317.4 1634.4 L1317.5 1633.4 L1317.7 1632.4 L1317.8 1631.4 L1318.0 1630.4 L1318.2 1629.4 L1318.4 1628.4 L1318.7 1627.4 L1318.9 1626.4 L1319.1 1625.4 L1319.3 1624.4 L1319.5 1623.4 L1319.6 1622.4 L1319.8 1621.4 L1319.9 1620.4 L1320.0 1619.4Z" fill="#70cb59" stroke="#050505" stroke-width="2.4" stroke-linejoin="round"/>
<line x1="1297.7" y1="1655.7" x2="1321.3" y2="1655.7" stroke="#050505" stroke-width="2.2" stroke-opacity="0.85"/>
<path d="M1342.1 1645.3 L1342.1 1646.3 L1342.2 1647.3 L1342.2 1648.3 L1342.3 1649.3 L1342.4 1650.3 L1342.4 1651.3 L1342.5 1652.3 L1342.6 1653.2 L1342.7 1654.2 L1342.7 1655.2 L1342.8 1656.2 L1342.8 1657.2 L1342.9 1658.2 L1342.9 1659.2 L1342.9 1660.2 L1342.9 1661.2 L1342.9 1662.2 L1342.8 1663.2 L1342.8 1664.2 L1342.7 1665.2 L1342.6 1666.2 L1342.6 1667.2 L1342.5 1668.2 L1342.4 1669.1 L1342.3 1670.1 L1342.3 1671.1 L1342.2 1672.1 L1342.2 1673.1 L1342.1 1674.1 L1342.1 1675.1 L1342.1 1676.1 L1342.1 1677.1 L1342.1 1678.1 L1342.2 1679.1 L1342.2 1680.1 L1342.3 1681.1 L1342.3 1682.1 L1342.4 1683.1 L1342.5 1684.1 L1342.5 1685.0 L1342.6 1686.0 L1342.7 1687.0 L1342.7 1688.0 L1342.8 1689.0 L1342.8 1690.0 L1342.9 1691.0 L1342.9 1692.0 L1342.9 1693.0 L1342.9 1694.0 L1342.9 1695.0 L1342.9 1696.0 L1342.8 1697.0 L1342.8 1698.0 L1342.8 1699.0 L1342.7 1700.0 L1342.7 1700.9 L1342.6 1701.9 L1342.6 1702.9 L1342.5 1703.9 L1342.5 1704.9 L1342.5 1705.9 L1342.4 1706.9 L1342.4 1707.9 L1342.4 1708.9 L1365.0 1708.9 L1365.0 1707.9 L1365.0 1706.9 L1364.9 1705.9 L1364.9 1704.9 L1364.9 1703.9 L1364.8 1702.9 L1364.8 1701.9 L1364.7 1700.9 L1364.7 1700.0 L1364.6 1699.0 L1364.6 1698.0 L1364.6 1697.0 L1364.5 1696.0 L1364.5 1695.0 L1364.5 1694.0 L1364.5 1693.0 L1364.5 1692.0 L1364.5 1691.0 L1364.6 1690.0 L1364.6 1689.0 L1364.7 1688.0 L1364.7 1687.0 L1364.8 1686.0 L1364.9 1685.0 L1364.9 1684.1 L1365.0 1683.1 L1365.1 1682.1 L1365.1 1681.1 L1365.2 1680.1 L1365.2 1679.1 L1365.3 1678.1 L1365.3 1677.1 L1365.3 1676.1 L1365.3 1675.1 L1365.3 1674.1 L1365.2 1673.1 L1365.2 1672.1 L1365.1 1671.1 L1365.1 1670.1 L1365.0 1669.1 L1364.9 1668.2 L1364.8 1667.2 L1364.8 1666.2 L1364.7 1665.2 L1364.6 1664.2 L1364.6 1663.2 L1364.5 1662.2 L1364.5 1661.2 L1364.5 1660.2 L1364.5 1659.2 L1364.5 1658.2 L1364.6 1657.2 L1364.6 1656.2 L1364.7 1655.2 L1364.7 1654.2 L1364.8 1653.2 L1364.9 1652.3 L1365.0 1651.3 L1365.0 1650.3 L1365.1 1649.3 L1365.2 1648.3 L1365.2 1647.3 L1365.3 1646.3 L1365.3 1645.3Z" fill="#70cb59" stroke="#050505" stroke-width="2.4" stroke-linejoin="round"/>
<line x1="1342.1" y1="1676.0" x2="1365.3" y2="1676.0" stroke="#050505" stroke-width="2.2" stroke-opacity="0.85"/>
<path d="M1387.0 1685.7 L1387.1 1686.7 L1387.3 1687.7 L1387.5 1688.7 L1387.7 1689.7 L1388.0 1690.7 L1388.3 1691.7 L1388.6 1692.7 L1388.8 1693.7 L1389.0 1694.7 L1389.2 1695.7 L1389.3 1696.7 L1389.3 1697.7 L1389.2 1698.7 L1389.0 1699.7 L1388.6 1700.7 L1388.2 1701.7 L1387.8 1702.7 L1387.3 1703.7 L1386.8 1704.7 L1386.3 1705.7 L1385.9 1706.7 L1385.6 1707.7 L1385.3 1708.7 L1385.2 1709.7 L1385.2 1710.7 L1385.2 1711.7 L1385.2 1712.7 L1385.2 1713.7 L1385.2 1714.7 L1385.2 1715.7 L1385.2 1716.7 L1385.2 1717.7 L1385.2 1718.7 L1385.2 1719.7 L1385.2 1720.7 L1385.2 1721.7 L1385.2 1722.7 L1385.2 1723.7 L1385.2 1724.7 L1385.2 1725.7 L1385.2 1726.7 L1385.2 1727.7 L1385.2 1728.7 L1385.2 1729.7 L1385.2 1730.7 L1408.8 1730.7 L1408.8 1729.7 L1408.8 1728.7 L1408.8 1727.7 L1408.8 1726.7 L1408.8 1725.7 L1408.8 1724.7 L1408.8 1723.7 L1408.8 1722.7 L1408.8 1721.7 L1408.8 1720.7 L1408.8 1719.7 L1408.8 1718.7 L1408.8 1717.7 L1408.8 1716.7 L1408.8 1715.7 L1408.8 1714.7 L1408.8 1713.7 L1408.8 1712.7 L1408.8 1711.7 L1408.8 1710.7 L1408.8 1709.7 L1408.7 1708.7 L1408.4 1707.7 L1408.1 1706.7 L1407.7 1705.7 L1407.2 1704.7 L1406.7 1703.7 L1406.2 1702.7 L1405.8 1701.7 L1405.4 1700.7 L1405.0 1699.7 L1404.8 1698.7 L1404.7 1697.7 L1404.7 1696.7 L1404.8 1695.7 L1405.0 1694.7 L1405.2 1693.7 L1405.4 1692.7 L1405.7 1691.7 L1406.0 1690.7 L1406.3 1689.7 L1406.5 1688.7 L1406.7 1687.7 L1406.9 1686.7 L1407.0 1685.7Z" fill="#70cb59" stroke="#050505" stroke-width="2.4" stroke-linejoin="round"/>
<line x1="1385.2" y1="1710.1" x2="1408.8" y2="1710.1" stroke="#050505" stroke-width="2.2" stroke-opacity="0.85"/>
<path d="M1433.4 1677.6 L1433.7 1678.6 L1434.1 1679.6 L1434.6 1680.6 L1435.2 1681.6 L1435.7 1682.6 L1436.3 1683.7 L1436.8 1684.7 L1437.3 1685.7 L1437.7 1686.7 L1437.9 1687.7 L1438.0 1688.7 L1437.7 1689.7 L1437.1 1690.7 L1436.3 1691.7 L1435.2 1692.7 L1434.0 1693.8 L1432.7 1694.8 L1431.5 1695.8 L1430.4 1696.8 L1429.5 1697.8 L1428.9 1698.8 L1428.6 1699.8 L1428.6 1700.8 L1428.6 1701.8 L1428.6 1702.8 L1428.6 1703.9 L1428.6 1704.9 L1428.6 1705.9 L1428.6 1706.9 L1428.6 1707.9 L1428.6 1708.9 L1452.2 1708.9 L1452.2 1707.9 L1452.2 1706.9 L1452.2 1705.9 L1452.2 1704.9 L1452.2 1703.9 L1452.2 1702.8 L1452.2 1701.8 L1452.2 1700.8 L1452.2 1699.8 L1451.9 1698.8 L1451.3 1697.8 L1450.4 1696.8 L1449.3 1695.8 L1448.1 1694.8 L1446.8 1693.8 L1445.6 1692.7 L1444.5 1691.7 L1443.7 1690.7 L1443.1 1689.7 L1442.8 1688.7 L1442.9 1687.7 L1443.1 1686.7 L1443.5 1685.7 L1444.0 1684.7 L1444.5 1683.7 L1445.1 1682.6 L1445.6 1681.6 L1446.2 1680.6 L1446.7 1679.6 L1447.1 1678.6 L1447.4 1677.6Z" fill="#70cb59" stroke="#050505" stroke-width="2.4" stroke-linejoin="round"/>
<line x1="1428.6" y1="1699.7" x2="1452.2" y2="1699.7" stroke="#050505" stroke-width="2.2" stroke-opacity="0.85"/>
<path d="M1500.6 1640.5 L1500.6 1641.5 L1500.6 1642.5 L1500.6 1643.5 L1500.6 1644.5 L1500.6 1645.6 L1500.6 1646.6 L1500.6 1647.6 L1500.6 1648.6 L1500.6 1649.6 L1500.6 1650.6 L1500.9 1651.6 L1501.3 1652.6 L1501.9 1653.6 L1502.6 1654.7 L1503.3 1655.7 L1504.2 1656.7 L1505.0 1657.7 L1505.9 1658.7 L1506.6 1659.7 L1507.3 1660.7 L1507.9 1661.7 L1508.4 1662.8 L1508.6 1663.8 L1508.7 1664.8 L1508.6 1665.8 L1508.4 1666.8 L1508.0 1667.8 L1507.6 1668.8 L1507.2 1669.8 L1506.7 1670.8 L1506.3 1671.9 L1505.8 1672.9 L1505.4 1673.9 L1505.1 1674.9 L1504.9 1675.9 L1520.1 1675.9 L1519.9 1674.9 L1519.6 1673.9 L1519.2 1672.9 L1518.7 1671.9 L1518.3 1670.8 L1517.8 1669.8 L1517.4 1668.8 L1517.0 1667.8 L1516.6 1666.8 L1516.4 1665.8 L1516.3 1664.8 L1516.4 1663.8 L1516.6 1662.8 L1517.1 1661.7 L1517.7 1660.7 L1518.4 1659.7 L1519.1 1658.7 L1520.0 1657.7 L1520.8 1656.7 L1521.7 1655.7 L1522.4 1654.7 L1523.1 1653.6 L1523.7 1652.6 L1524.1 1651.6 L1524.4 1650.6 L1524.4 1649.6 L1524.4 1648.6 L1524.4 1647.6 L1524.4 1646.6 L1524.4 1645.6 L1524.4 1644.5 L1524.4 1643.5 L1524.4 1642.5 L1524.4 1641.5 L1524.4 1640.5Z" fill="#089a48" stroke="#050505" stroke-width="2.4" stroke-linejoin="round"/>
<line x1="1500.6" y1="1650.4" x2="1524.4" y2="1650.4" stroke="#050505" stroke-width="2.2" stroke-opacity="0.85"/>
<path d="M1545.3 1603.4 L1545.3 1604.4 L1545.4 1605.4 L1545.4 1606.4 L1545.5 1607.4 L1545.5 1608.4 L1545.6 1609.4 L1545.7 1610.4 L1545.8 1611.4 L1545.9 1612.4 L1546.0 1613.4 L1546.1 1614.4 L1546.2 1615.4 L1546.3 1616.4 L1546.4 1617.4 L1546.5 1618.4 L1546.6 1619.5 L1546.8 1620.5 L1546.9 1621.5 L1547.0 1622.5 L1547.1 1623.5 L1547.2 1624.5 L1547.4 1625.5 L1547.5 1626.5 L1547.6 1627.5 L1547.7 1628.5 L1547.8 1629.5 L1547.9 1630.5 L1548.0 1631.5 L1548.0 1632.5 L1548.1 1633.5 L1548.2 1634.5 L1548.2 1635.5 L1548.3 1636.5 L1548.3 1637.5 L1548.3 1638.5 L1548.3 1639.5 L1548.3 1640.5 L1548.3 1641.5 L1548.2 1642.5 L1548.1 1643.5 L1548.1 1644.5 L1548.0 1645.5 L1547.8 1646.5 L1547.7 1647.5 L1547.6 1648.5 L1547.4 1649.5 L1547.3 1650.5 L1547.1 1651.6 L1547.0 1652.6 L1546.8 1653.6 L1546.6 1654.6 L1546.4 1655.6 L1546.3 1656.6 L1546.1 1657.6 L1545.9 1658.6 L1545.7 1659.6 L1545.5 1660.6 L1545.4 1661.6 L1545.2 1662.6 L1545.0 1663.6 L1544.9 1664.6 L1544.7 1665.6 L1544.6 1666.6 L1544.5 1667.6 L1544.4 1668.6 L1544.3 1669.6 L1544.2 1670.6 L1544.1 1671.6 L1544.1 1672.6 L1544.0 1673.6 L1544.0 1674.6 L1544.0 1675.6 L1544.0 1676.6 L1544.0 1677.6 L1544.0 1678.6 L1544.0 1679.6 L1544.0 1680.6 L1544.0 1681.6 L1544.0 1682.6 L1544.0 1683.7 L1544.0 1684.7 L1544.0 1685.7 L1544.0 1686.7 L1544.0 1687.7 L1544.0 1688.7 L1544.0 1689.7 L1544.0 1690.7 L1544.0 1691.7 L1544.0 1692.7 L1544.0 1693.7 L1544.0 1694.7 L1544.0 1695.7 L1544.0 1696.7 L1544.0 1697.7 L1544.0 1698.7 L1544.0 1699.7 L1544.0 1700.7 L1544.0 1701.7 L1544.0 1702.7 L1544.0 1703.7 L1544.0 1704.7 L1544.0 1705.7 L1544.0 1706.7 L1544.0 1707.7 L1544.0 1708.7 L1544.0 1709.7 L1544.0 1710.7 L1544.0 1711.7 L1544.0 1712.7 L1544.0 1713.7 L1544.0 1714.7 L1544.0 1715.8 L1544.0 1716.8 L1544.0 1717.8 L1544.0 1718.8 L1544.0 1719.8 L1544.0 1720.8 L1544.0 1721.8 L1544.0 1722.8 L1544.0 1723.8 L1544.0 1724.8 L1544.0 1725.8 L1544.0 1726.8 L1544.0 1727.8 L1544.0 1728.8 L1544.0 1729.8 L1544.0 1730.8 L1568.0 1730.8 L1568.0 1729.8 L1568.0 1728.8 L1568.0 1727.8 L1568.0 1726.8 L1568.0 1725.8 L1568.0 1724.8 L1568.0 1723.8 L1568.0 1722.8 L1568.0 1721.8 L1568.0 1720.8 L1568.0 1719.8 L1568.0 1718.8 L1568.0 1717.8 L1568.0 1716.8 L1568.0 1715.8 L1568.0 1714.7 L1568.0 1713.7 L1568.0 1712.7 L1568.0 1711.7 L1568.0 1710.7 L1568.0 1709.7 L1568.0 1708.7 L1568.0 1707.7 L1568.0 1706.7 L1568.0 1705.7 L1568.0 1704.7 L1568.0 1703.7 L1568.0 1702.7 L1568.0 1701.7 L1568.0 1700.7 L1568.0 1699.7 L1568.0 1698.7 L1568.0 1697.7 L1568.0 1696.7 L1568.0 1695.7 L1568.0 1694.7 L1568.0 1693.7 L1568.0 1692.7 L1568.0 1691.7 L1568.0 1690.7 L1568.0 1689.7 L1568.0 1688.7 L1568.0 1687.7 L1568.0 1686.7 L1568.0 1685.7 L1568.0 1684.7 L1568.0 1683.7 L1568.0 1682.6 L1568.0 1681.6 L1568.0 1680.6 L1568.0 1679.6 L1568.0 1678.6 L1568.0 1677.6 L1568.0 1676.6 L1568.0 1675.6 L1568.0 1674.6 L1568.0 1673.6 L1567.9 1672.6 L1567.9 1671.6 L1567.8 1670.6 L1567.7 1669.6 L1567.6 1668.6 L1567.5 1667.6 L1567.4 1666.6 L1567.3 1665.6 L1567.1 1664.6 L1567.0 1663.6 L1566.8 1662.6 L1566.6 1661.6 L1566.5 1660.6 L1566.3 1659.6 L1566.1 1658.6 L1565.9 1657.6 L1565.7 1656.6 L1565.6 1655.6 L1565.4 1654.6 L1565.2 1653.6 L1565.0 1652.6 L1564.9 1651.6 L1564.7 1650.5 L1564.6 1649.5 L1564.4 1648.5 L1564.3 1647.5 L1564.2 1646.5 L1564.0 1645.5 L1563.9 1644.5 L1563.9 1643.5 L1563.8 1642.5 L1563.7 1641.5 L1563.7 1640.5 L1563.7 1639.5 L1563.7 1638.5 L1563.7 1637.5 L1563.7 1636.5 L1563.8 1635.5 L1563.8 1634.5 L1563.9 1633.5 L1564.0 1632.5 L1564.0 1631.5 L1564.1 1630.5 L1564.2 1629.5 L1564.3 1628.5 L1564.4 1627.5 L1564.5 1626.5 L1564.6 1625.5 L1564.8 1624.5 L1564.9 1623.5 L1565.0 1622.5 L1565.1 1621.5 L1565.2 1620.5 L1565.4 1619.5 L1565.5 1618.4 L1565.6 1617.4 L1565.7 1616.4 L1565.8 1615.4 L1565.9 1614.4 L1566.0 1613.4 L1566.1 1612.4 L1566.2 1611.4 L1566.3 1610.4 L1566.4 1609.4 L1566.5 1608.4 L1566.5 1607.4 L1566.6 1606.4 L1566.6 1605.4 L1566.7 1604.4 L1566.7 1603.4Z" fill="#089a48" stroke="#050505" stroke-width="2.4" stroke-linejoin="round"/>
<line x1="1544.0" y1="1675.6" x2="1568.0" y2="1675.6" stroke="#050505" stroke-width="2.2" stroke-opacity="0.85"/>
<path d="M1587.9 1693.9 L1587.9 1694.9 L1587.9 1695.9 L1587.9 1696.9 L1587.9 1697.9 L1587.9 1698.9 L1587.9 1699.9 L1587.9 1700.9 L1587.9 1701.9 L1587.9 1702.9 L1587.9 1703.9 L1587.9 1704.9 L1587.9 1705.9 L1587.9 1707.0 L1587.9 1708.0 L1587.9 1709.0 L1587.9 1710.0 L1587.9 1711.0 L1588.1 1712.0 L1588.3 1713.0 L1588.6 1714.0 L1588.9 1715.0 L1589.3 1716.0 L1589.7 1717.0 L1590.2 1718.0 L1590.6 1719.0 L1591.1 1720.0 L1591.5 1721.0 L1592.0 1722.0 L1592.4 1723.0 L1592.7 1724.0 L1593.0 1725.0 L1593.3 1726.0 L1593.4 1727.0 L1593.5 1728.0 L1593.5 1729.0 L1593.4 1730.0 L1593.3 1731.1 L1593.1 1732.1 L1592.9 1733.1 L1592.7 1734.1 L1592.5 1735.1 L1592.3 1736.1 L1592.0 1737.1 L1591.8 1738.1 L1591.5 1739.1 L1591.3 1740.1 L1591.2 1741.1 L1591.0 1742.1 L1590.9 1743.1 L1607.7 1743.1 L1607.6 1742.1 L1607.4 1741.1 L1607.3 1740.1 L1607.1 1739.1 L1606.8 1738.1 L1606.6 1737.1 L1606.3 1736.1 L1606.1 1735.1 L1605.9 1734.1 L1605.7 1733.1 L1605.5 1732.1 L1605.3 1731.1 L1605.2 1730.0 L1605.1 1729.0 L1605.1 1728.0 L1605.2 1727.0 L1605.3 1726.0 L1605.6 1725.0 L1605.9 1724.0 L1606.2 1723.0 L1606.6 1722.0 L1607.1 1721.0 L1607.5 1720.0 L1608.0 1719.0 L1608.4 1718.0 L1608.9 1717.0 L1609.3 1716.0 L1609.7 1715.0 L1610.0 1714.0 L1610.3 1713.0 L1610.5 1712.0 L1610.7 1711.0 L1610.7 1710.0 L1610.7 1709.0 L1610.7 1708.0 L1610.7 1707.0 L1610.7 1705.9 L1610.7 1704.9 L1610.7 1703.9 L1610.7 1702.9 L1610.7 1701.9 L1610.7 1700.9 L1610.7 1699.9 L1610.7 1698.9 L1610.7 1697.9 L1610.7 1696.9 L1610.7 1695.9 L1610.7 1694.9 L1610.7 1693.9Z" fill="#089a48" stroke="#050505" stroke-width="2.4" stroke-linejoin="round"/>
<line x1="1587.9" y1="1710.5" x2="1610.7" y2="1710.5" stroke="#050505" stroke-width="2.2" stroke-opacity="0.85"/>
<path d="M1631.6 1712.4 L1631.6 1713.4 L1631.6 1714.4 L1631.7 1715.4 L1631.7 1716.4 L1631.9 1717.4 L1632.1 1718.4 L1632.3 1719.4 L1632.6 1720.4 L1632.9 1721.4 L1633.2 1722.4 L1633.6 1723.4 L1633.9 1724.4 L1634.3 1725.4 L1634.7 1726.4 L1635.2 1727.4 L1635.6 1728.4 L1636.1 1729.4 L1636.5 1730.4 L1637.0 1731.4 L1637.4 1732.4 L1637.9 1733.4 L1638.3 1734.4 L1638.8 1735.4 L1639.2 1736.4 L1639.6 1737.4 L1639.9 1738.4 L1640.3 1739.4 L1640.6 1740.4 L1640.9 1741.4 L1641.2 1742.4 L1641.4 1743.3 L1641.5 1744.3 L1641.7 1745.3 L1641.8 1746.3 L1641.8 1747.3 L1641.8 1748.3 L1641.7 1749.3 L1641.7 1750.3 L1641.6 1751.3 L1641.4 1752.3 L1641.3 1753.3 L1641.1 1754.3 L1640.9 1755.3 L1640.7 1756.3 L1640.5 1757.3 L1640.3 1758.3 L1640.0 1759.3 L1639.8 1760.3 L1639.6 1761.3 L1639.3 1762.3 L1639.1 1763.3 L1638.9 1764.3 L1638.7 1765.3 L1638.4 1766.3 L1638.3 1767.3 L1638.1 1768.3 L1637.9 1769.3 L1637.8 1770.3 L1637.7 1771.3 L1637.6 1772.3 L1637.5 1773.3 L1648.9 1773.3 L1648.8 1772.3 L1648.7 1771.3 L1648.6 1770.3 L1648.5 1769.3 L1648.3 1768.3 L1648.1 1767.3 L1648.0 1766.3 L1647.7 1765.3 L1647.5 1764.3 L1647.3 1763.3 L1647.1 1762.3 L1646.8 1761.3 L1646.6 1760.3 L1646.4 1759.3 L1646.1 1758.3 L1645.9 1757.3 L1645.7 1756.3 L1645.5 1755.3 L1645.3 1754.3 L1645.1 1753.3 L1645.0 1752.3 L1644.8 1751.3 L1644.7 1750.3 L1644.7 1749.3 L1644.6 1748.3 L1644.6 1747.3 L1644.6 1746.3 L1644.7 1745.3 L1644.9 1744.3 L1645.0 1743.3 L1645.2 1742.4 L1645.5 1741.4 L1645.8 1740.4 L1646.1 1739.4 L1646.5 1738.4 L1646.8 1737.4 L1647.2 1736.4 L1647.6 1735.4 L1648.1 1734.4 L1648.5 1733.4 L1649.0 1732.4 L1649.4 1731.4 L1649.9 1730.4 L1650.3 1729.4 L1650.8 1728.4 L1651.2 1727.4 L1651.7 1726.4 L1652.1 1725.4 L1652.5 1724.4 L1652.8 1723.4 L1653.2 1722.4 L1653.5 1721.4 L1653.8 1720.4 L1654.1 1719.4 L1654.3 1718.4 L1654.5 1717.4 L1654.7 1716.4 L1654.7 1715.4 L1654.8 1714.4 L1654.8 1713.4 L1654.8 1712.4Z" fill="#089a48" stroke="#050505" stroke-width="2.4" stroke-linejoin="round"/>
<g fill="#050505" stroke="#050505" stroke-width="0.45" stroke-linejoin="round" font-family="'Liberation Sans', Arial, Helvetica, sans-serif">
<text x="234.9" y="2095.6" font-size="43.5" text-anchor="end" stroke-width="0.2">1</text>
<text x="234.9" y="1824.2" font-size="43.5" text-anchor="end" stroke-width="0.2">10</text>
<text x="234.9" y="1552.9" font-size="43.5" text-anchor="end" stroke-width="0.2">100</text>
<text x="234.9" y="1281.5" font-size="43.5" text-anchor="end" stroke-width="0.2">1000</text>
<text x="297.5" y="2147.2" font-size="43.5" text-anchor="middle" stroke-width="0.2">1</text>
<text x="341.2" y="2147.2" font-size="43.5" text-anchor="middle" stroke-width="0.2">2</text>
<text x="384.5" y="2147.2" font-size="43.5" text-anchor="middle" stroke-width="0.2">3</text>
<text x="428.0" y="2147.2" font-size="43.5" text-anchor="middle" stroke-width="0.2">4</text>
<text x="500.0" y="2147.2" font-size="43.5" text-anchor="middle" stroke-width="0.2">1</text>
<text x="543.5" y="2147.2" font-size="43.5" text-anchor="middle" stroke-width="0.2">2</text>
<text x="586.9" y="2147.2" font-size="43.5" text-anchor="middle" stroke-width="0.2">3</text>
<text x="630.2" y="2147.2" font-size="43.5" text-anchor="middle" stroke-width="0.2">4</text>
<text x="702.2" y="2147.2" font-size="43.5" text-anchor="middle" stroke-width="0.2">1</text>
<text x="746.0" y="2147.2" font-size="43.5" text-anchor="middle" stroke-width="0.2">2</text>
<text x="789.7" y="2147.2" font-size="43.5" text-anchor="middle" stroke-width="0.2">3</text>
<text x="832.9" y="2147.2" font-size="43.5" text-anchor="middle" stroke-width="0.2">4</text>
<text x="904.6" y="2147.2" font-size="43.5" text-anchor="middle" stroke-width="0.2">1</text>
<text x="948.4" y="2147.2" font-size="43.5" text-anchor="middle" stroke-width="0.2">2</text>
<text x="991.7" y="2147.2" font-size="43.5" text-anchor="middle" stroke-width="0.2">3</text>
<text x="1035.1" y="2147.2" font-size="43.5" text-anchor="middle" stroke-width="0.2">4</text>
<text x="1107.1" y="2147.2" font-size="43.5" text-anchor="middle" stroke-width="0.2">1</text>
<text x="1150.4" y="2147.2" font-size="43.5" text-anchor="middle" stroke-width="0.2">2</text>
<text x="1194.3" y="2147.2" font-size="43.5" text-anchor="middle" stroke-width="0.2">3</text>
<text x="1237.6" y="2147.2" font-size="43.5" text-anchor="middle" stroke-width="0.2">4</text>
<text x="1309.2" y="2147.2" font-size="43.5" text-anchor="middle" stroke-width="0.2">1</text>
<text x="1353.4" y="2147.2" font-size="43.5" text-anchor="middle" stroke-width="0.2">2</text>
<text x="1396.7" y="2147.2" font-size="43.5" text-anchor="middle" stroke-width="0.2">3</text>
<text x="1440.1" y="2147.2" font-size="43.5" text-anchor="middle" stroke-width="0.2">4</text>
<text x="1512.2" y="2147.2" font-size="43.5" text-anchor="middle" stroke-width="0.2">1</text>
<text x="1555.7" y="2147.2" font-size="43.5" text-anchor="middle" stroke-width="0.2">2</text>
<text x="1599.0" y="2147.2" font-size="43.5" text-anchor="middle" stroke-width="0.2">3</text>
<text x="1642.9" y="2147.2" font-size="43.5" text-anchor="middle" stroke-width="0.2">4</text>
<text x="976.8" y="2213.6" font-size="50.8" font-weight="bold" text-anchor="middle">Replicates</text>
<text x="976.8" y="1206.0" font-size="60.6" font-weight="bold" text-anchor="middle">CD4 OVA Epitope</text>
<text x="90" y="1205.7" font-size="70.5" stroke="none" fill="#262626">(B)</text>
<text transform="translate(65.5 1671.9) rotate(-90)" font-size="51" font-weight="bold" text-anchor="middle">IL-4 T cell responses</text>
<text transform="translate(126.2 1668.0) rotate(-90)" font-size="51.05" font-weight="bold" text-anchor="middle">following 2 immunisations</text>
</g>
<rect x="540.8" y="2358" width="853.2" height="460.8" fill="#eff0f0" stroke="#262626" stroke-width="4"/>
<g fill="#050505" stroke="#050505" stroke-width="0.45" stroke-linejoin="round" font-family="'Liberation Sans', Arial, Helvetica, sans-serif">
<text x="744.5" y="2347.9" font-size="45.2" font-weight="bold" text-anchor="middle" fill="#231f20" stroke="#231f20">Antigen</text>
<text x="1210.6" y="2347.9" font-size="44.9" font-weight="bold" text-anchor="middle" fill="#231f20" stroke="#231f20">Adjuvant</text>
<rect x="581" y="2381.9" width="48.5" height="37.2" fill="#d08c53" stroke="none"/>
<text x="658.3" y="2412.0" font-size="29.8" stroke-width="0.2" fill="#1d1a1b" stroke="#1d1a1b">PBS alone</text>
<path d="M1001.4 2403.5h31.4M1017.1 2387.8v31.4" stroke="#231f20" stroke-width="9" fill="none"/>
<line x1="1073.2" y1="2403.5" x2="1344.2" y2="2403.5" stroke="#231f20" stroke-width="3.6"/>
<rect x="581" y="2444.3" width="48.5" height="37.2" fill="#9e8dc7" stroke="none"/>
<text x="658.3" y="2474.3" font-size="29.8" stroke-width="0.2" fill="#1d1a1b" stroke="#1d1a1b">OVA alone</text>
<path d="M1001.4 2465.9h31.4M1017.1 2450.2v31.4" stroke="#231f20" stroke-width="9" fill="none"/>
<line x1="1073.2" y1="2465.9" x2="1344.2" y2="2465.9" stroke="#231f20" stroke-width="3.6"/>
<rect x="581" y="2506.6" width="48.5" height="37.2" fill="#5c288e" stroke="none"/>
<text x="658.3" y="2536.6" font-size="29.8" stroke-width="0.2" fill="#1d1a1b" stroke="#1d1a1b">OVA</text>
<path d="M1001.4 2528.2h31.4M1017.1 2512.5v31.4" stroke="#231f20" stroke-width="9" fill="none"/>
<text x="1050.8" y="2536.6" font-size="29.65" stroke-width="0.2" fill="#1d1a1b" stroke="#1d1a1b">CpG-PEG-<tspan font-style="italic">b</tspan>-PLGA-NPs</text>
<rect x="581" y="2569.0" width="48.5" height="37.2" fill="#7abedb" stroke="none"/>
<text x="658.3" y="2598.9" font-size="29.8" stroke-width="0.2" fill="#1d1a1b" stroke="#1d1a1b">OVA-PSNPs</text>
<path d="M1001.4 2590.6h31.4M1017.1 2574.9v31.4" stroke="#231f20" stroke-width="9" fill="none"/>
<line x1="1073.2" y1="2590.6" x2="1344.2" y2="2590.6" stroke="#231f20" stroke-width="3.6"/>
<rect x="581" y="2631.4" width="48.5" height="37.2" fill="#0b63a3" stroke="none"/>
<text x="658.3" y="2661.2" font-size="29.8" stroke-width="0.2" fill="#1d1a1b" stroke="#1d1a1b">OVA-PSNPS</text>
<path d="M1001.4 2653.0h31.4M1017.1 2637.3v31.4" stroke="#231f20" stroke-width="9" fill="none"/>
<text x="1050.8" y="2661.2" font-size="29.65" stroke-width="0.2" fill="#1d1a1b" stroke="#1d1a1b">CpG-PEG-<tspan font-style="italic">b</tspan>-PLGA-NPs</text>
<rect x="581" y="2693.8" width="48.5" height="37.2" fill="#70cb59" stroke="none"/>
<text x="658.3" y="2723.5" font-size="29.8" stroke-width="0.2" fill="#1d1a1b" stroke="#1d1a1b">OVA-PEG-<tspan font-style="italic">b</tspan>-PLGA-NPs</text>
<path d="M1001.4 2715.3h31.4M1017.1 2699.7v31.4" stroke="#231f20" stroke-width="9" fill="none"/>
<line x1="1073.2" y1="2715.3" x2="1344.2" y2="2715.3" stroke="#231f20" stroke-width="3.6"/>
<rect x="581" y="2756.1" width="48.5" height="37.2" fill="#089a48" stroke="none"/>
<text x="658.3" y="2785.8" font-size="29.8" stroke-width="0.2" fill="#1d1a1b" stroke="#1d1a1b">OVA-PEG-<tspan font-style="italic">b</tspan>-PLGA-NPs</text>
<path d="M1001.4 2777.7h31.4M1017.1 2762.0v31.4" stroke="#231f20" stroke-width="9" fill="none"/>
<text x="1050.8" y="2785.8" font-size="29.65" stroke-width="0.2" fill="#1d1a1b" stroke="#1d1a1b">CpG-PEG-<tspan font-style="italic">b</tspan>-PLGA-NPs</text>
</g>
</g>
</svg>
</body>
</html>
